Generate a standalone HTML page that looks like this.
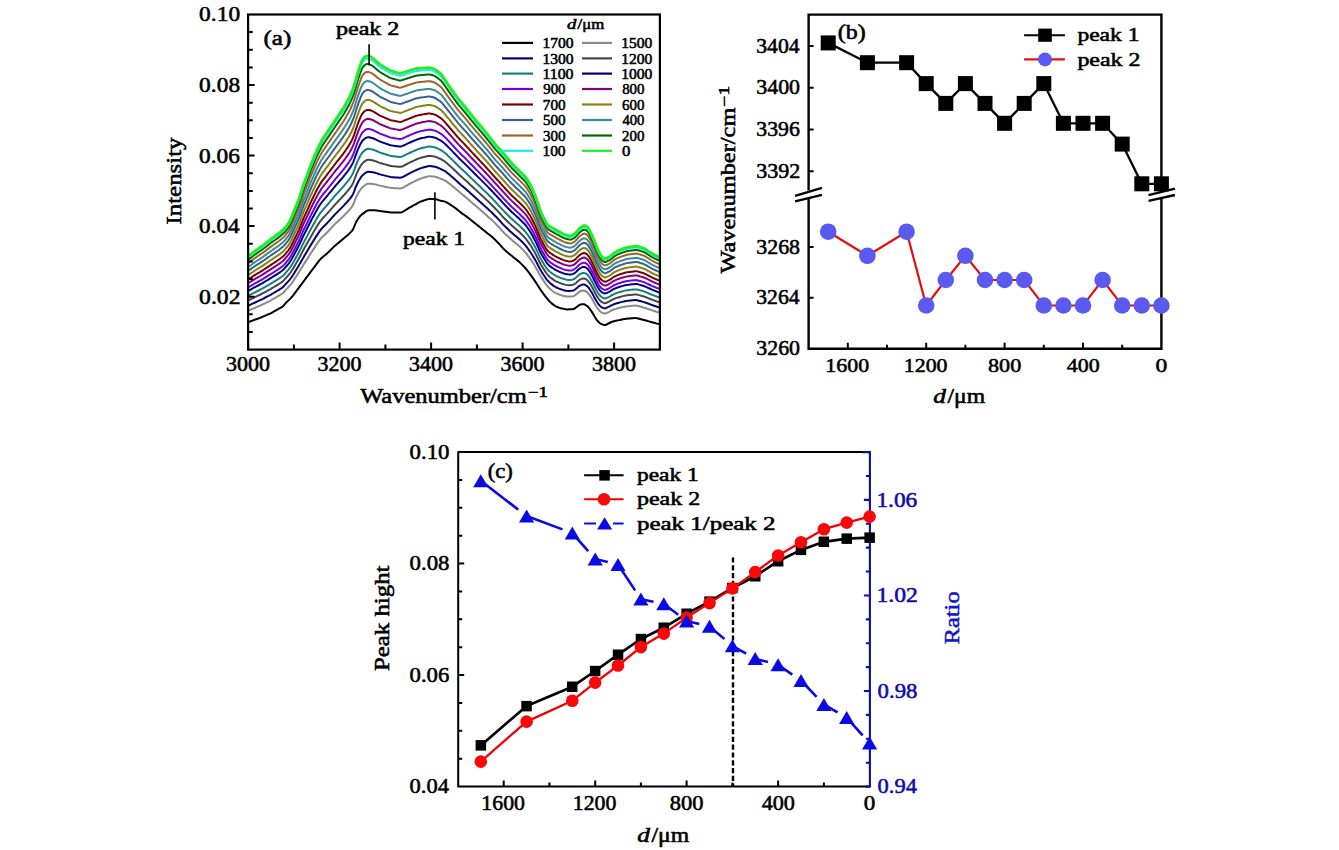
<!DOCTYPE html>
<html><head><meta charset="utf-8"><title>figure</title>
<style>html,body{margin:0;padding:0;background:#fff;}svg{display:block;}
text{font-family:"Liberation Serif",serif;}</style></head>
<body>
<svg width="1339" height="850" viewBox="0 0 1339 850" font-family="Liberation Serif, serif">
<rect width="1339" height="850" fill="#fff"/>
<defs><clipPath id="ca"><rect x="248.1" y="14.5" width="411.8" height="335.1"/></clipPath></defs>
<g clip-path="url(#ca)" fill="none" stroke-linejoin="round">
<path d="M248.0 322.08 L249.0 321.84 L250.0 321.48 L251.0 321.12 L252.0 320.76 L253.0 320.40 L254.0 320.04 L255.0 319.68 L256.0 319.31 L257.0 318.95 L258.0 318.59 L259.0 318.23 L260.0 317.85 L261.0 317.45 L262.0 317.03 L263.0 316.60 L264.0 316.17 L265.0 315.74 L266.0 315.31 L267.0 314.88 L268.0 314.45 L269.0 314.02 L270.0 313.58 L271.0 313.10 L272.0 312.58 L273.0 312.02 L274.0 311.46 L275.0 310.90 L276.0 310.34 L277.0 309.78 L278.0 309.22 L279.0 308.66 L280.0 308.10 L281.0 307.53 L282.0 306.97 L283.0 306.19 L284.0 305.13 L285.0 303.93 L286.0 302.81 L287.0 301.83 L288.0 300.84 L289.0 299.86 L290.0 298.87 L291.0 297.88 L292.0 296.79 L293.0 295.58 L294.0 294.25 L295.0 292.91 L296.0 291.56 L297.0 290.22 L298.0 288.88 L299.0 287.54 L300.0 286.20 L301.0 284.86 L302.0 283.52 L303.0 282.18 L304.0 280.84 L305.0 279.51 L306.0 278.17 L307.0 276.83 L308.0 275.48 L309.0 274.14 L310.0 272.80 L311.0 271.45 L312.0 270.11 L313.0 268.77 L314.0 267.44 L315.0 266.12 L316.0 264.79 L317.0 263.47 L318.0 262.15 L319.0 260.82 L320.0 259.61 L321.0 258.57 L322.0 257.69 L323.0 256.86 L324.0 256.03 L325.0 255.19 L326.0 254.36 L327.0 253.50 L328.0 252.58 L329.0 251.60 L330.0 250.60 L331.0 249.60 L332.0 248.60 L333.0 247.60 L334.0 246.63 L335.0 245.72 L336.0 244.87 L337.0 244.04 L338.0 243.21 L339.0 242.38 L340.0 241.55 L341.0 240.71 L342.0 239.88 L343.0 239.04 L344.0 238.19 L345.0 237.35 L346.0 236.51 L347.0 235.66 L348.0 234.80 L349.0 233.87 L350.0 232.90 L351.0 231.90 L352.0 230.90 L353.0 229.38 L354.0 227.20 L355.0 224.57 L356.0 222.30 L357.0 220.51 L358.0 219.03 L359.0 217.54 L360.0 216.22 L361.0 215.15 L362.0 214.33 L363.0 213.58 L364.0 212.84 L365.0 212.09 L366.0 211.35 L367.0 210.75 L368.0 210.40 L369.0 210.30 L370.0 210.30 L371.0 210.30 L372.0 210.30 L373.0 210.30 L374.0 210.30 L375.0 210.35 L376.0 210.44 L377.0 210.58 L378.0 210.72 L379.0 210.86 L380.0 211.00 L381.0 211.13 L382.0 211.27 L383.0 211.40 L384.0 211.53 L385.0 211.66 L386.0 211.80 L387.0 211.93 L388.0 212.06 L389.0 212.19 L390.0 212.33 L391.0 212.43 L392.0 212.49 L393.0 212.50 L394.0 212.50 L395.0 212.50 L396.0 212.50 L397.0 212.50 L398.0 212.50 L399.0 212.50 L400.0 212.50 L401.0 212.42 L402.0 212.13 L403.0 211.64 L404.0 211.03 L405.0 210.42 L406.0 209.81 L407.0 209.20 L408.0 208.58 L409.0 207.97 L410.0 207.38 L411.0 206.81 L412.0 206.26 L413.0 205.71 L414.0 205.16 L415.0 204.61 L416.0 204.07 L417.0 203.52 L418.0 202.97 L419.0 202.42 L420.0 201.91 L421.0 201.47 L422.0 201.10 L423.0 200.77 L424.0 200.43 L425.0 200.10 L426.0 199.77 L427.0 199.43 L428.0 199.11 L429.0 198.93 L430.0 198.87 L431.0 198.94 L432.0 199.00 L433.0 199.07 L434.0 199.14 L435.0 199.20 L436.0 199.32 L437.0 199.54 L438.0 199.86 L439.0 200.23 L440.0 200.54 L441.0 200.79 L442.0 200.98 L443.0 201.17 L444.0 201.35 L445.0 201.64 L446.0 202.06 L447.0 202.63 L448.0 203.23 L449.0 203.83 L450.0 204.45 L451.0 205.10 L452.0 205.78 L453.0 206.48 L454.0 207.17 L455.0 207.88 L456.0 208.62 L457.0 209.39 L458.0 210.20 L459.0 211.02 L460.0 211.83 L461.0 212.61 L462.0 213.35 L463.0 214.06 L464.0 214.75 L465.0 215.45 L466.0 216.17 L467.0 216.91 L468.0 217.69 L469.0 218.48 L470.0 219.27 L471.0 220.07 L472.0 220.86 L473.0 221.65 L474.0 222.44 L475.0 223.24 L476.0 224.03 L477.0 224.83 L478.0 225.63 L479.0 226.44 L480.0 227.25 L481.0 228.06 L482.0 228.87 L483.0 229.68 L484.0 230.49 L485.0 231.30 L486.0 232.11 L487.0 232.91 L488.0 233.71 L489.0 234.51 L490.0 235.30 L491.0 236.09 L492.0 236.89 L493.0 237.76 L494.0 238.70 L495.0 239.70 L496.0 240.70 L497.0 241.70 L498.0 242.73 L499.0 243.80 L500.0 244.90 L501.0 246.02 L502.0 247.13 L503.0 248.21 L504.0 249.21 L505.0 250.13 L506.0 251.02 L507.0 251.90 L508.0 252.79 L509.0 253.64 L510.0 254.47 L511.0 255.28 L512.0 256.10 L513.0 256.91 L514.0 257.71 L515.0 258.51 L516.0 259.31 L517.0 260.10 L518.0 260.89 L519.0 261.72 L520.0 262.63 L521.0 263.60 L522.0 264.60 L523.0 265.60 L524.0 266.63 L525.0 267.74 L526.0 268.94 L527.0 270.21 L528.0 271.47 L529.0 272.74 L530.0 274.05 L531.0 275.40 L532.0 276.80 L533.0 278.20 L534.0 279.60 L535.0 281.07 L536.0 282.60 L537.0 284.20 L538.0 285.80 L539.0 287.40 L540.0 288.93 L541.0 290.40 L542.0 291.80 L543.0 293.20 L544.0 294.60 L545.0 295.93 L546.0 297.20 L547.0 298.40 L548.0 299.60 L549.0 300.80 L550.0 301.87 L551.0 302.80 L552.0 303.60 L553.0 304.40 L554.0 305.20 L555.0 305.87 L556.0 306.40 L557.0 306.80 L558.0 307.20 L559.0 307.60 L560.0 307.94 L561.0 308.21 L562.0 308.43 L563.0 308.64 L564.0 308.86 L565.0 309.07 L566.0 309.29 L567.0 309.40 L568.0 309.43 L569.0 309.36 L570.0 309.29 L571.0 309.21 L572.0 309.14 L573.0 309.07 L574.0 308.77 L575.0 308.25 L576.0 307.50 L577.0 306.75 L578.0 306.00 L579.0 305.25 L580.0 304.71 L581.0 304.38 L582.0 304.25 L583.0 304.12 L584.0 304.25 L585.0 304.62 L586.0 305.25 L587.0 305.88 L588.0 306.75 L589.0 307.88 L590.0 309.25 L591.0 310.62 L592.0 312.12 L593.0 313.75 L594.0 315.50 L595.0 317.25 L596.0 318.79 L597.0 320.12 L598.0 321.25 L599.0 322.38 L600.0 323.25 L601.0 323.87 L602.0 324.23 L603.0 324.60 L604.0 324.94 L605.0 324.99 L606.0 324.75 L607.0 324.25 L608.0 323.75 L609.0 323.25 L610.0 322.75 L611.0 322.25 L612.0 321.82 L613.0 321.48 L614.0 321.23 L615.0 321.01 L616.0 320.79 L617.0 320.58 L618.0 320.36 L619.0 320.14 L620.0 319.92 L621.0 319.71 L622.0 319.49 L623.0 319.27 L624.0 319.07 L625.0 318.90 L626.0 318.78 L627.0 318.69 L628.0 318.60 L629.0 318.51 L630.0 318.42 L631.0 318.33 L632.0 318.24 L633.0 318.15 L634.0 318.06 L635.0 318.00 L636.0 318.05 L637.0 318.21 L638.0 318.47 L639.0 318.74 L640.0 319.00 L641.0 319.26 L642.0 319.52 L643.0 319.78 L644.0 320.04 L645.0 320.30 L646.0 320.57 L647.0 320.83 L648.0 321.11 L649.0 321.39 L650.0 321.67 L651.0 321.95 L652.0 322.22 L653.0 322.50 L654.0 322.78 L655.0 323.06 L656.0 323.34 L657.0 323.62 L658.0 323.87 L659.0 324.10 L660.0 324.23" stroke="#000000" stroke-width="2.0"/>
<path d="M248.0 310.69 L249.0 310.40 L250.0 309.96 L251.0 309.53 L252.0 309.09 L253.0 308.66 L254.0 308.22 L255.0 307.79 L256.0 307.36 L257.0 306.94 L258.0 306.52 L259.0 306.10 L260.0 305.67 L261.0 305.21 L262.0 304.74 L263.0 304.26 L264.0 303.77 L265.0 303.28 L266.0 302.79 L267.0 302.29 L268.0 301.80 L269.0 301.30 L270.0 300.81 L271.0 300.28 L272.0 299.72 L273.0 299.13 L274.0 298.55 L275.0 297.96 L276.0 297.38 L277.0 296.79 L278.0 296.20 L279.0 295.61 L280.0 295.00 L281.0 294.38 L282.0 293.77 L283.0 292.97 L284.0 291.94 L285.0 290.76 L286.0 289.62 L287.0 288.58 L288.0 287.54 L289.0 286.45 L290.0 285.31 L291.0 284.11 L292.0 282.81 L293.0 281.39 L294.0 279.86 L295.0 278.32 L296.0 276.78 L297.0 275.25 L298.0 273.71 L299.0 272.13 L300.0 270.51 L301.0 268.86 L302.0 267.22 L303.0 265.57 L304.0 263.95 L305.0 262.38 L306.0 260.84 L307.0 259.28 L308.0 257.70 L309.0 256.10 L310.0 254.52 L311.0 252.96 L312.0 251.42 L313.0 249.89 L314.0 248.36 L315.0 246.84 L316.0 245.32 L317.0 243.83 L318.0 242.37 L319.0 240.94 L320.0 239.60 L321.0 238.39 L322.0 237.35 L323.0 236.38 L324.0 235.43 L325.0 234.49 L326.0 233.54 L327.0 232.57 L328.0 231.54 L329.0 230.48 L330.0 229.39 L331.0 228.30 L332.0 227.22 L333.0 226.13 L334.0 225.07 L335.0 224.06 L336.0 223.09 L337.0 222.15 L338.0 221.20 L339.0 220.25 L340.0 219.31 L341.0 218.36 L342.0 217.41 L343.0 216.45 L344.0 215.48 L345.0 214.48 L346.0 213.47 L347.0 212.45 L348.0 211.42 L349.0 210.34 L350.0 209.18 L351.0 207.96 L352.0 206.70 L353.0 205.01 L354.0 202.72 L355.0 199.99 L356.0 197.51 L357.0 195.43 L358.0 193.62 L359.0 191.84 L360.0 190.23 L361.0 188.83 L362.0 187.74 L363.0 186.81 L364.0 185.99 L365.0 185.23 L366.0 184.52 L367.0 183.98 L368.0 183.69 L369.0 183.65 L370.0 183.72 L371.0 183.79 L372.0 183.89 L373.0 184.02 L374.0 184.17 L375.0 184.36 L376.0 184.59 L377.0 184.85 L378.0 185.12 L379.0 185.39 L380.0 185.64 L381.0 185.87 L382.0 186.08 L383.0 186.30 L384.0 186.51 L385.0 186.72 L386.0 186.94 L387.0 187.15 L388.0 187.36 L389.0 187.58 L390.0 187.77 L391.0 187.93 L392.0 188.03 L393.0 188.09 L394.0 188.14 L395.0 188.19 L396.0 188.25 L397.0 188.30 L398.0 188.35 L399.0 188.40 L400.0 188.42 L401.0 188.33 L402.0 188.04 L403.0 187.59 L404.0 187.03 L405.0 186.47 L406.0 185.91 L407.0 185.35 L408.0 184.79 L409.0 184.23 L410.0 183.69 L411.0 183.17 L412.0 182.66 L413.0 182.16 L414.0 181.65 L415.0 181.14 L416.0 180.65 L417.0 180.16 L418.0 179.69 L419.0 179.22 L420.0 178.79 L421.0 178.41 L422.0 178.09 L423.0 177.81 L424.0 177.52 L425.0 177.23 L426.0 176.94 L427.0 176.66 L428.0 176.38 L429.0 176.22 L430.0 176.19 L431.0 176.28 L432.0 176.39 L433.0 176.49 L434.0 176.60 L435.0 176.75 L436.0 176.96 L437.0 177.27 L438.0 177.66 L439.0 178.10 L440.0 178.49 L441.0 178.86 L442.0 179.23 L443.0 179.63 L444.0 180.05 L445.0 180.54 L446.0 181.15 L447.0 181.88 L448.0 182.64 L449.0 183.39 L450.0 184.16 L451.0 184.94 L452.0 185.74 L453.0 186.57 L454.0 187.39 L455.0 188.21 L456.0 189.07 L457.0 189.95 L458.0 190.85 L459.0 191.74 L460.0 192.61 L461.0 193.47 L462.0 194.29 L463.0 195.08 L464.0 195.86 L465.0 196.65 L466.0 197.45 L467.0 198.29 L468.0 199.16 L469.0 200.04 L470.0 200.92 L471.0 201.79 L472.0 202.65 L473.0 203.52 L474.0 204.38 L475.0 205.24 L476.0 206.11 L477.0 206.98 L478.0 207.85 L479.0 208.73 L480.0 209.61 L481.0 210.48 L482.0 211.36 L483.0 212.24 L484.0 213.11 L485.0 213.98 L486.0 214.86 L487.0 215.74 L488.0 216.63 L489.0 217.51 L490.0 218.39 L491.0 219.27 L492.0 220.16 L493.0 221.11 L494.0 222.10 L495.0 223.14 L496.0 224.16 L497.0 225.18 L498.0 226.22 L499.0 227.29 L500.0 228.39 L501.0 229.50 L502.0 230.61 L503.0 231.69 L504.0 232.72 L505.0 233.69 L506.0 234.63 L507.0 235.58 L508.0 236.52 L509.0 237.43 L510.0 238.33 L511.0 239.20 L512.0 240.06 L513.0 240.91 L514.0 241.75 L515.0 242.59 L516.0 243.42 L517.0 244.25 L518.0 245.08 L519.0 245.94 L520.0 246.86 L521.0 247.84 L522.0 248.84 L523.0 249.84 L524.0 250.86 L525.0 251.96 L526.0 253.16 L527.0 254.45 L528.0 255.78 L529.0 257.11 L530.0 258.48 L531.0 259.92 L532.0 261.45 L533.0 263.01 L534.0 264.57 L535.0 266.20 L536.0 267.91 L537.0 269.72 L538.0 271.55 L539.0 273.39 L540.0 275.17 L541.0 276.84 L542.0 278.39 L543.0 279.90 L544.0 281.40 L545.0 282.85 L546.0 284.24 L547.0 285.54 L548.0 286.74 L549.0 287.86 L550.0 288.83 L551.0 289.70 L552.0 290.46 L553.0 291.22 L554.0 291.97 L555.0 292.62 L556.0 293.16 L557.0 293.59 L558.0 294.02 L559.0 294.44 L560.0 294.81 L561.0 295.14 L562.0 295.41 L563.0 295.68 L564.0 295.94 L565.0 296.18 L566.0 296.41 L567.0 296.55 L568.0 296.62 L569.0 296.61 L570.0 296.58 L571.0 296.50 L572.0 296.38 L573.0 296.23 L574.0 295.89 L575.0 295.32 L576.0 294.52 L577.0 293.70 L578.0 292.88 L579.0 292.07 L580.0 291.46 L581.0 291.04 L582.0 290.81 L583.0 290.59 L584.0 290.64 L585.0 290.96 L586.0 291.55 L587.0 292.18 L588.0 293.09 L589.0 294.29 L590.0 295.73 L591.0 297.20 L592.0 298.82 L593.0 300.57 L594.0 302.43 L595.0 304.31 L596.0 306.03 L597.0 307.58 L598.0 308.91 L599.0 310.21 L600.0 311.24 L601.0 312.04 L602.0 312.56 L603.0 313.01 L604.0 313.40 L605.0 313.49 L606.0 313.28 L607.0 312.79 L608.0 312.29 L609.0 311.80 L610.0 311.28 L611.0 310.74 L612.0 310.23 L613.0 309.80 L614.0 309.44 L615.0 309.14 L616.0 308.85 L617.0 308.59 L618.0 308.32 L619.0 308.06 L620.0 307.80 L621.0 307.55 L622.0 307.31 L623.0 307.07 L624.0 306.84 L625.0 306.65 L626.0 306.49 L627.0 306.36 L628.0 306.25 L629.0 306.15 L630.0 306.06 L631.0 305.96 L632.0 305.87 L633.0 305.77 L634.0 305.68 L635.0 305.60 L636.0 305.62 L637.0 305.76 L638.0 306.01 L639.0 306.28 L640.0 306.55 L641.0 306.82 L642.0 307.09 L643.0 307.37 L644.0 307.65 L645.0 307.95 L646.0 308.27 L647.0 308.61 L648.0 308.96 L649.0 309.30 L650.0 309.65 L651.0 310.00 L652.0 310.34 L653.0 310.66 L654.0 310.98 L655.0 311.30 L656.0 311.62 L657.0 311.94 L658.0 312.22 L659.0 312.47 L660.0 312.62" stroke="#8a8a8a" stroke-width="2.0"/>
<path d="M248.0 305.62 L249.0 305.31 L250.0 304.84 L251.0 304.37 L252.0 303.90 L253.0 303.44 L254.0 302.97 L255.0 302.50 L256.0 302.05 L257.0 301.60 L258.0 301.15 L259.0 300.70 L260.0 300.24 L261.0 299.77 L262.0 299.27 L263.0 298.77 L264.0 298.26 L265.0 297.74 L266.0 297.21 L267.0 296.69 L268.0 296.17 L269.0 295.64 L270.0 295.12 L271.0 294.57 L272.0 293.99 L273.0 293.40 L274.0 292.80 L275.0 292.21 L276.0 291.61 L277.0 291.01 L278.0 290.41 L279.0 289.80 L280.0 289.17 L281.0 288.53 L282.0 287.89 L283.0 287.09 L284.0 286.07 L285.0 284.90 L286.0 283.75 L287.0 282.68 L288.0 281.61 L289.0 280.48 L290.0 279.28 L291.0 277.99 L292.0 276.58 L293.0 275.07 L294.0 273.46 L295.0 271.83 L296.0 270.20 L297.0 268.58 L298.0 266.96 L299.0 265.27 L300.0 263.53 L301.0 261.75 L302.0 259.96 L303.0 258.17 L304.0 256.44 L305.0 254.75 L306.0 253.12 L307.0 251.47 L308.0 249.78 L309.0 248.07 L310.0 246.38 L311.0 244.72 L312.0 243.10 L313.0 241.48 L314.0 239.87 L315.0 238.26 L316.0 236.65 L317.0 235.09 L318.0 233.57 L319.0 232.09 L320.0 230.69 L321.0 229.42 L322.0 228.30 L323.0 227.27 L324.0 226.27 L325.0 225.27 L326.0 224.27 L327.0 223.25 L328.0 222.18 L329.0 221.07 L330.0 219.95 L331.0 218.82 L332.0 217.70 L333.0 216.57 L334.0 215.48 L335.0 214.42 L336.0 213.40 L337.0 212.40 L338.0 211.41 L339.0 210.41 L340.0 209.41 L341.0 208.41 L342.0 207.41 L343.0 206.40 L344.0 205.37 L345.0 204.30 L346.0 203.21 L347.0 202.12 L348.0 201.01 L349.0 199.86 L350.0 198.62 L351.0 197.30 L352.0 195.92 L353.0 194.16 L354.0 191.82 L355.0 189.05 L356.0 186.47 L357.0 184.26 L358.0 182.31 L359.0 180.40 L360.0 178.67 L361.0 177.11 L362.0 175.90 L363.0 174.90 L364.0 174.05 L365.0 173.27 L366.0 172.58 L367.0 172.07 L368.0 171.80 L369.0 171.78 L370.0 171.89 L371.0 171.99 L372.0 172.14 L373.0 172.32 L374.0 172.54 L375.0 172.79 L376.0 173.08 L377.0 173.40 L378.0 173.73 L379.0 174.05 L380.0 174.35 L381.0 174.62 L382.0 174.87 L383.0 175.12 L384.0 175.37 L385.0 175.62 L386.0 175.87 L387.0 176.12 L388.0 176.37 L389.0 176.62 L390.0 176.85 L391.0 177.02 L392.0 177.14 L393.0 177.22 L394.0 177.30 L395.0 177.38 L396.0 177.45 L397.0 177.53 L398.0 177.60 L399.0 177.68 L400.0 177.70 L401.0 177.61 L402.0 177.32 L403.0 176.88 L404.0 176.34 L405.0 175.81 L406.0 175.27 L407.0 174.74 L408.0 174.20 L409.0 173.67 L410.0 173.15 L411.0 172.65 L412.0 172.16 L413.0 171.67 L414.0 171.19 L415.0 170.70 L416.0 170.22 L417.0 169.76 L418.0 169.33 L419.0 168.90 L420.0 168.50 L421.0 168.15 L422.0 167.86 L423.0 167.59 L424.0 167.32 L425.0 167.05 L426.0 166.79 L427.0 166.52 L428.0 166.26 L429.0 166.12 L430.0 166.10 L431.0 166.20 L432.0 166.32 L433.0 166.44 L434.0 166.58 L435.0 166.75 L436.0 167.00 L437.0 167.36 L438.0 167.79 L439.0 168.25 L440.0 168.68 L441.0 169.10 L442.0 169.55 L443.0 170.05 L444.0 170.57 L445.0 171.16 L446.0 171.85 L447.0 172.64 L448.0 173.47 L449.0 174.30 L450.0 175.12 L451.0 175.96 L452.0 176.83 L453.0 177.70 L454.0 178.58 L455.0 179.46 L456.0 180.37 L457.0 181.30 L458.0 182.24 L459.0 183.15 L460.0 184.06 L461.0 184.95 L462.0 185.80 L463.0 186.63 L464.0 187.45 L465.0 188.28 L466.0 189.12 L467.0 190.00 L468.0 190.91 L469.0 191.83 L470.0 192.75 L471.0 193.65 L472.0 194.55 L473.0 195.44 L474.0 196.34 L475.0 197.24 L476.0 198.13 L477.0 199.03 L478.0 199.94 L479.0 200.84 L480.0 201.75 L481.0 202.66 L482.0 203.56 L483.0 204.47 L484.0 205.37 L485.0 206.28 L486.0 207.19 L487.0 208.10 L488.0 209.02 L489.0 209.95 L490.0 210.87 L491.0 211.79 L492.0 212.71 L493.0 213.69 L494.0 214.72 L495.0 215.77 L496.0 216.80 L497.0 217.82 L498.0 218.87 L499.0 219.94 L500.0 221.04 L501.0 222.15 L502.0 223.25 L503.0 224.34 L504.0 225.38 L505.0 226.38 L506.0 227.34 L507.0 228.31 L508.0 229.27 L509.0 230.22 L510.0 231.14 L511.0 232.04 L512.0 232.92 L513.0 233.79 L514.0 234.64 L515.0 235.50 L516.0 236.34 L517.0 237.19 L518.0 238.04 L519.0 238.92 L520.0 239.85 L521.0 240.83 L522.0 241.82 L523.0 242.82 L524.0 243.84 L525.0 244.93 L526.0 246.14 L527.0 247.44 L528.0 248.80 L529.0 250.16 L530.0 251.55 L531.0 253.03 L532.0 254.61 L533.0 256.25 L534.0 257.89 L535.0 259.58 L536.0 261.37 L537.0 263.27 L538.0 265.21 L539.0 267.16 L540.0 269.05 L541.0 270.80 L542.0 272.42 L543.0 273.98 L544.0 275.53 L545.0 277.02 L546.0 278.48 L547.0 279.81 L548.0 281.02 L549.0 282.10 L550.0 283.03 L551.0 283.87 L552.0 284.61 L553.0 285.35 L554.0 286.09 L555.0 286.73 L556.0 287.27 L557.0 287.71 L558.0 288.15 L559.0 288.58 L560.0 288.97 L561.0 289.31 L562.0 289.61 L563.0 289.91 L564.0 290.18 L565.0 290.44 L566.0 290.67 L567.0 290.83 L568.0 290.92 L569.0 290.94 L570.0 290.92 L571.0 290.84 L572.0 290.69 L573.0 290.52 L574.0 290.15 L575.0 289.56 L576.0 288.75 L577.0 287.89 L578.0 287.04 L579.0 286.20 L580.0 285.56 L581.0 285.10 L582.0 284.83 L583.0 284.57 L584.0 284.58 L585.0 284.88 L586.0 285.45 L587.0 286.08 L588.0 287.01 L589.0 288.24 L590.0 289.71 L591.0 291.23 L592.0 292.89 L593.0 294.70 L594.0 296.61 L595.0 298.55 L596.0 300.34 L597.0 301.99 L598.0 303.42 L599.0 304.79 L600.0 305.90 L601.0 306.77 L602.0 307.36 L603.0 307.85 L604.0 308.27 L605.0 308.37 L606.0 308.17 L607.0 307.68 L608.0 307.19 L609.0 306.70 L610.0 306.18 L611.0 305.62 L612.0 305.07 L613.0 304.60 L614.0 304.20 L615.0 303.85 L616.0 303.54 L617.0 303.25 L618.0 302.96 L619.0 302.68 L620.0 302.40 L621.0 302.14 L622.0 301.89 L623.0 301.64 L624.0 301.40 L625.0 301.19 L626.0 301.02 L627.0 300.88 L628.0 300.76 L629.0 300.65 L630.0 300.56 L631.0 300.46 L632.0 300.36 L633.0 300.26 L634.0 300.16 L635.0 300.08 L636.0 300.09 L637.0 300.22 L638.0 300.46 L639.0 300.74 L640.0 301.01 L641.0 301.29 L642.0 301.56 L643.0 301.84 L644.0 302.13 L645.0 302.45 L646.0 302.80 L647.0 303.17 L648.0 303.55 L649.0 303.93 L650.0 304.30 L651.0 304.68 L652.0 305.04 L653.0 305.39 L654.0 305.73 L655.0 306.07 L656.0 306.40 L657.0 306.74 L658.0 307.04 L659.0 307.30 L660.0 307.45" stroke="#00007a" stroke-width="2.0"/>
<path d="M248.0 300.48 L249.0 300.15 L250.0 299.65 L251.0 299.15 L252.0 298.65 L253.0 298.14 L254.0 297.64 L255.0 297.15 L256.0 296.66 L257.0 296.18 L258.0 295.71 L259.0 295.23 L260.0 294.75 L261.0 294.25 L262.0 293.73 L263.0 293.21 L264.0 292.67 L265.0 292.12 L266.0 291.57 L267.0 291.02 L268.0 290.46 L269.0 289.91 L270.0 289.36 L271.0 288.79 L272.0 288.19 L273.0 287.59 L274.0 286.98 L275.0 286.37 L276.0 285.77 L277.0 285.16 L278.0 284.55 L279.0 283.91 L280.0 283.26 L281.0 282.60 L282.0 281.94 L283.0 281.13 L284.0 280.12 L285.0 278.96 L286.0 277.81 L287.0 276.71 L288.0 275.61 L289.0 274.44 L290.0 273.16 L291.0 271.78 L292.0 270.27 L293.0 268.67 L294.0 266.97 L295.0 265.25 L296.0 263.54 L297.0 261.83 L298.0 260.12 L299.0 258.33 L300.0 256.46 L301.0 254.54 L302.0 252.61 L303.0 250.68 L304.0 248.82 L305.0 247.03 L306.0 245.31 L307.0 243.56 L308.0 241.77 L309.0 239.94 L310.0 238.14 L311.0 236.39 L312.0 234.67 L313.0 232.97 L314.0 231.26 L315.0 229.57 L316.0 227.87 L317.0 226.24 L318.0 224.65 L319.0 223.12 L320.0 221.67 L321.0 220.32 L322.0 219.14 L323.0 218.04 L324.0 216.99 L325.0 215.93 L326.0 214.88 L327.0 213.81 L328.0 212.70 L329.0 211.55 L330.0 210.39 L331.0 209.22 L332.0 208.06 L333.0 206.90 L334.0 205.75 L335.0 204.65 L336.0 203.58 L337.0 202.53 L338.0 201.48 L339.0 200.43 L340.0 199.38 L341.0 198.33 L342.0 197.28 L343.0 196.22 L344.0 195.13 L345.0 193.99 L346.0 192.83 L347.0 191.66 L348.0 190.47 L349.0 189.25 L350.0 187.92 L351.0 186.50 L352.0 185.01 L353.0 183.17 L354.0 180.78 L355.0 177.97 L356.0 175.30 L357.0 172.95 L358.0 170.86 L359.0 168.82 L360.0 166.95 L361.0 165.25 L362.0 163.91 L363.0 162.83 L364.0 161.94 L365.0 161.16 L366.0 160.48 L367.0 160.00 L368.0 159.76 L369.0 159.76 L370.0 159.90 L371.0 160.04 L372.0 160.23 L373.0 160.47 L374.0 160.76 L375.0 161.07 L376.0 161.42 L377.0 161.80 L378.0 162.19 L379.0 162.57 L380.0 162.92 L381.0 163.23 L382.0 163.52 L383.0 163.81 L384.0 164.09 L385.0 164.38 L386.0 164.66 L387.0 164.95 L388.0 165.24 L389.0 165.52 L390.0 165.78 L391.0 165.97 L392.0 166.11 L393.0 166.22 L394.0 166.32 L395.0 166.42 L396.0 166.51 L397.0 166.61 L398.0 166.71 L399.0 166.81 L400.0 166.84 L401.0 166.75 L402.0 166.46 L403.0 166.03 L404.0 165.52 L405.0 165.01 L406.0 164.50 L407.0 163.99 L408.0 163.48 L409.0 162.97 L410.0 162.47 L411.0 161.99 L412.0 161.52 L413.0 161.05 L414.0 160.58 L415.0 160.12 L416.0 159.66 L417.0 159.23 L418.0 158.83 L419.0 158.44 L420.0 158.07 L421.0 157.75 L422.0 157.48 L423.0 157.24 L424.0 156.99 L425.0 156.74 L426.0 156.50 L427.0 156.25 L428.0 156.01 L429.0 155.88 L430.0 155.87 L431.0 155.99 L432.0 156.12 L433.0 156.26 L434.0 156.42 L435.0 156.63 L436.0 156.92 L437.0 157.32 L438.0 157.78 L439.0 158.28 L440.0 158.74 L441.0 159.22 L442.0 159.74 L443.0 160.34 L444.0 160.96 L445.0 161.64 L446.0 162.42 L447.0 163.29 L448.0 164.19 L449.0 165.08 L450.0 165.97 L451.0 166.87 L452.0 167.80 L453.0 168.73 L454.0 169.66 L455.0 170.60 L456.0 171.56 L457.0 172.53 L458.0 173.51 L459.0 174.46 L460.0 175.40 L461.0 176.32 L462.0 177.21 L463.0 178.07 L464.0 178.94 L465.0 179.80 L466.0 180.69 L467.0 181.61 L468.0 182.56 L469.0 183.52 L470.0 184.47 L471.0 185.41 L472.0 186.34 L473.0 187.27 L474.0 188.20 L475.0 189.12 L476.0 190.05 L477.0 190.98 L478.0 191.92 L479.0 192.86 L480.0 193.79 L481.0 194.73 L482.0 195.67 L483.0 196.60 L484.0 197.54 L485.0 198.47 L486.0 199.41 L487.0 200.36 L488.0 201.32 L489.0 202.28 L490.0 203.24 L491.0 204.21 L492.0 205.17 L493.0 206.18 L494.0 207.23 L495.0 208.30 L496.0 209.35 L497.0 210.37 L498.0 211.42 L499.0 212.50 L500.0 213.59 L501.0 214.70 L502.0 215.80 L503.0 216.89 L504.0 217.95 L505.0 218.97 L506.0 219.96 L507.0 220.95 L508.0 221.94 L509.0 222.91 L510.0 223.86 L511.0 224.79 L512.0 225.69 L513.0 226.57 L514.0 227.45 L515.0 228.31 L516.0 229.18 L517.0 230.04 L518.0 230.91 L519.0 231.80 L520.0 232.74 L521.0 233.72 L522.0 234.72 L523.0 235.72 L524.0 236.74 L525.0 237.81 L526.0 239.02 L527.0 240.34 L528.0 241.72 L529.0 243.11 L530.0 244.53 L531.0 246.06 L532.0 247.69 L533.0 249.40 L534.0 251.11 L535.0 252.87 L536.0 254.75 L537.0 256.74 L538.0 258.79 L539.0 260.84 L540.0 262.84 L541.0 264.69 L542.0 266.38 L543.0 267.98 L544.0 269.57 L545.0 271.13 L546.0 272.63 L547.0 274.01 L548.0 275.23 L549.0 276.27 L550.0 277.16 L551.0 277.96 L552.0 278.68 L553.0 279.40 L554.0 280.13 L555.0 280.76 L556.0 281.30 L557.0 281.75 L558.0 282.20 L559.0 282.65 L560.0 283.05 L561.0 283.42 L562.0 283.74 L563.0 284.06 L564.0 284.36 L565.0 284.63 L566.0 284.87 L567.0 285.04 L568.0 285.15 L569.0 285.19 L570.0 285.19 L571.0 285.11 L572.0 284.94 L573.0 284.73 L574.0 284.34 L575.0 283.73 L576.0 282.90 L577.0 282.01 L578.0 281.12 L579.0 280.26 L580.0 279.58 L581.0 279.09 L582.0 278.77 L583.0 278.46 L584.0 278.45 L585.0 278.72 L586.0 279.27 L587.0 279.91 L588.0 280.86 L589.0 282.12 L590.0 283.61 L591.0 285.17 L592.0 286.89 L593.0 288.76 L594.0 290.72 L595.0 292.71 L596.0 294.59 L597.0 296.34 L598.0 297.86 L599.0 299.30 L600.0 300.49 L601.0 301.44 L602.0 302.09 L603.0 302.62 L604.0 303.06 L605.0 303.19 L606.0 303.00 L607.0 302.51 L608.0 302.03 L609.0 301.54 L610.0 301.01 L611.0 300.43 L612.0 299.85 L613.0 299.33 L614.0 298.88 L615.0 298.50 L616.0 298.15 L617.0 297.84 L618.0 297.54 L619.0 297.23 L620.0 296.94 L621.0 296.66 L622.0 296.40 L623.0 296.14 L624.0 295.89 L625.0 295.67 L626.0 295.47 L627.0 295.32 L628.0 295.19 L629.0 295.08 L630.0 294.98 L631.0 294.88 L632.0 294.78 L633.0 294.68 L634.0 294.58 L635.0 294.49 L636.0 294.49 L637.0 294.61 L638.0 294.84 L639.0 295.12 L640.0 295.40 L641.0 295.68 L642.0 295.96 L643.0 296.24 L644.0 296.54 L645.0 296.88 L646.0 297.26 L647.0 297.66 L648.0 298.07 L649.0 298.48 L650.0 298.89 L651.0 299.29 L652.0 299.68 L653.0 300.05 L654.0 300.41 L655.0 300.76 L656.0 301.12 L657.0 301.47 L658.0 301.79 L659.0 302.06 L660.0 302.21" stroke="#464646" stroke-width="2.0"/>
<path d="M248.0 295.81 L249.0 295.45 L250.0 294.92 L251.0 294.39 L252.0 293.86 L253.0 293.33 L254.0 292.80 L255.0 292.27 L256.0 291.75 L257.0 291.25 L258.0 290.75 L259.0 290.26 L260.0 289.75 L261.0 289.23 L262.0 288.69 L263.0 288.14 L264.0 287.58 L265.0 287.01 L266.0 286.43 L267.0 285.85 L268.0 285.27 L269.0 284.69 L270.0 284.11 L271.0 283.52 L272.0 282.92 L273.0 282.30 L274.0 281.68 L275.0 281.06 L276.0 280.45 L277.0 279.83 L278.0 279.20 L279.0 278.56 L280.0 277.89 L281.0 277.20 L282.0 276.52 L283.0 275.70 L284.0 274.70 L285.0 273.55 L286.0 272.40 L287.0 271.27 L288.0 270.15 L289.0 268.94 L290.0 267.60 L291.0 266.13 L292.0 264.53 L293.0 262.85 L294.0 261.06 L295.0 259.27 L296.0 257.47 L297.0 255.69 L298.0 253.89 L299.0 252.00 L300.0 250.03 L301.0 247.97 L302.0 245.92 L303.0 243.86 L304.0 241.89 L305.0 240.00 L306.0 238.20 L307.0 236.36 L308.0 234.47 L309.0 232.53 L310.0 230.64 L311.0 228.79 L312.0 227.00 L313.0 225.22 L314.0 223.43 L315.0 221.65 L316.0 219.88 L317.0 218.18 L318.0 216.54 L319.0 214.96 L320.0 213.45 L321.0 212.04 L322.0 210.79 L323.0 209.63 L324.0 208.53 L325.0 207.44 L326.0 206.34 L327.0 205.22 L328.0 204.07 L329.0 202.88 L330.0 201.68 L331.0 200.48 L332.0 199.28 L333.0 198.08 L334.0 196.90 L335.0 195.76 L336.0 194.65 L337.0 193.55 L338.0 192.45 L339.0 191.35 L340.0 190.26 L341.0 189.16 L342.0 188.06 L343.0 186.95 L344.0 185.80 L345.0 184.61 L346.0 183.37 L347.0 182.13 L348.0 180.88 L349.0 179.59 L350.0 178.19 L351.0 176.68 L352.0 175.08 L353.0 173.17 L354.0 170.73 L355.0 167.88 L356.0 165.12 L357.0 162.65 L358.0 160.43 L359.0 158.27 L360.0 156.28 L361.0 154.44 L362.0 153.00 L363.0 151.84 L364.0 150.92 L365.0 150.13 L366.0 149.47 L367.0 149.02 L368.0 148.80 L369.0 148.82 L370.0 148.99 L371.0 149.16 L372.0 149.39 L373.0 149.68 L374.0 150.03 L375.0 150.41 L376.0 150.81 L377.0 151.25 L378.0 151.68 L379.0 152.11 L380.0 152.51 L381.0 152.87 L382.0 153.18 L383.0 153.50 L384.0 153.82 L385.0 154.14 L386.0 154.46 L387.0 154.78 L388.0 155.10 L389.0 155.42 L390.0 155.70 L391.0 155.92 L392.0 156.07 L393.0 156.20 L394.0 156.32 L395.0 156.44 L396.0 156.56 L397.0 156.68 L398.0 156.80 L399.0 156.92 L400.0 156.96 L401.0 156.87 L402.0 156.58 L403.0 156.16 L404.0 155.67 L405.0 155.18 L406.0 154.69 L407.0 154.20 L408.0 153.71 L409.0 153.22 L410.0 152.75 L411.0 152.28 L412.0 151.83 L413.0 151.38 L414.0 150.93 L415.0 150.49 L416.0 150.05 L417.0 149.65 L418.0 149.28 L419.0 148.92 L420.0 148.58 L421.0 148.29 L422.0 148.04 L423.0 147.81 L424.0 147.59 L425.0 147.36 L426.0 147.13 L427.0 146.90 L428.0 146.68 L429.0 146.56 L430.0 146.57 L431.0 146.69 L432.0 146.84 L433.0 146.99 L434.0 147.17 L435.0 147.41 L436.0 147.74 L437.0 148.18 L438.0 148.67 L439.0 149.20 L440.0 149.69 L441.0 150.22 L442.0 150.81 L443.0 151.50 L444.0 152.22 L445.0 152.99 L446.0 153.84 L447.0 154.78 L448.0 155.74 L449.0 156.69 L450.0 157.64 L451.0 158.60 L452.0 159.57 L453.0 160.56 L454.0 161.54 L455.0 162.53 L456.0 163.54 L457.0 164.56 L458.0 165.57 L459.0 166.55 L460.0 167.51 L461.0 168.46 L462.0 169.38 L463.0 170.29 L464.0 171.18 L465.0 172.08 L466.0 173.01 L467.0 173.96 L468.0 174.95 L469.0 175.95 L470.0 176.94 L471.0 177.91 L472.0 178.87 L473.0 179.82 L474.0 180.78 L475.0 181.74 L476.0 182.70 L477.0 183.66 L478.0 184.62 L479.0 185.59 L480.0 186.55 L481.0 187.52 L482.0 188.48 L483.0 189.44 L484.0 190.40 L485.0 191.36 L486.0 192.33 L487.0 193.32 L488.0 194.31 L489.0 195.31 L490.0 196.31 L491.0 197.30 L492.0 198.30 L493.0 199.35 L494.0 200.42 L495.0 201.51 L496.0 202.56 L497.0 203.59 L498.0 204.64 L499.0 205.72 L500.0 206.82 L501.0 207.92 L502.0 209.02 L503.0 210.12 L504.0 211.18 L505.0 212.22 L506.0 213.23 L507.0 214.25 L508.0 215.26 L509.0 216.26 L510.0 217.24 L511.0 218.19 L512.0 219.11 L513.0 220.01 L514.0 220.89 L515.0 221.78 L516.0 222.66 L517.0 223.54 L518.0 224.42 L519.0 225.32 L520.0 226.27 L521.0 227.25 L522.0 228.25 L523.0 229.25 L524.0 230.27 L525.0 231.34 L526.0 232.54 L527.0 233.87 L528.0 235.29 L529.0 236.70 L530.0 238.14 L531.0 239.70 L532.0 241.39 L533.0 243.17 L534.0 244.94 L535.0 246.77 L536.0 248.72 L537.0 250.79 L538.0 252.95 L539.0 255.10 L540.0 257.19 L541.0 259.12 L542.0 260.88 L543.0 262.52 L544.0 264.16 L545.0 265.76 L546.0 267.31 L547.0 268.73 L548.0 269.95 L549.0 270.96 L550.0 271.81 L551.0 272.58 L552.0 273.29 L553.0 273.99 L554.0 274.70 L555.0 275.32 L556.0 275.87 L557.0 276.33 L558.0 276.79 L559.0 277.25 L560.0 277.67 L561.0 278.05 L562.0 278.40 L563.0 278.74 L564.0 279.06 L565.0 279.34 L566.0 279.58 L567.0 279.76 L568.0 279.89 L569.0 279.96 L570.0 279.98 L571.0 279.89 L572.0 279.70 L573.0 279.46 L574.0 279.05 L575.0 278.42 L576.0 277.57 L577.0 276.66 L578.0 275.74 L579.0 274.85 L580.0 274.14 L581.0 273.62 L582.0 273.26 L583.0 272.91 L584.0 272.86 L585.0 273.11 L586.0 273.65 L587.0 274.29 L588.0 275.25 L589.0 276.54 L590.0 278.06 L591.0 279.66 L592.0 281.43 L593.0 283.35 L594.0 285.36 L595.0 287.40 L596.0 289.35 L597.0 291.19 L598.0 292.80 L599.0 294.31 L600.0 295.56 L601.0 296.58 L602.0 297.30 L603.0 297.86 L604.0 298.33 L605.0 298.47 L606.0 298.29 L607.0 297.81 L608.0 297.32 L609.0 296.84 L610.0 296.30 L611.0 295.71 L612.0 295.09 L613.0 294.54 L614.0 294.05 L615.0 293.62 L616.0 293.25 L617.0 292.92 L618.0 292.60 L619.0 292.27 L620.0 291.96 L621.0 291.67 L622.0 291.41 L623.0 291.14 L624.0 290.87 L625.0 290.64 L626.0 290.43 L627.0 290.26 L628.0 290.12 L629.0 290.01 L630.0 289.91 L631.0 289.80 L632.0 289.70 L633.0 289.60 L634.0 289.50 L635.0 289.41 L636.0 289.39 L637.0 289.50 L638.0 289.72 L639.0 290.01 L640.0 290.29 L641.0 290.58 L642.0 290.86 L643.0 291.15 L644.0 291.46 L645.0 291.81 L646.0 292.22 L647.0 292.65 L648.0 293.08 L649.0 293.52 L650.0 293.96 L651.0 294.39 L652.0 294.80 L653.0 295.19 L654.0 295.56 L655.0 295.94 L656.0 296.31 L657.0 296.68 L658.0 297.00 L659.0 297.29 L660.0 297.45" stroke="#108080" stroke-width="2.0"/>
<path d="M248.0 290.87 L249.0 290.49 L250.0 289.93 L251.0 289.37 L252.0 288.80 L253.0 288.24 L254.0 287.67 L255.0 287.12 L256.0 286.57 L257.0 286.04 L258.0 285.52 L259.0 285.00 L260.0 284.47 L261.0 283.92 L262.0 283.37 L263.0 282.80 L264.0 282.21 L265.0 281.61 L266.0 281.00 L267.0 280.39 L268.0 279.79 L269.0 279.18 L270.0 278.57 L271.0 277.96 L272.0 277.34 L273.0 276.71 L274.0 276.08 L275.0 275.46 L276.0 274.83 L277.0 274.20 L278.0 273.56 L279.0 272.90 L280.0 272.21 L281.0 271.50 L282.0 270.79 L283.0 269.97 L284.0 268.98 L285.0 267.84 L286.0 266.68 L287.0 265.53 L288.0 264.38 L289.0 263.13 L290.0 261.72 L291.0 260.16 L292.0 258.47 L293.0 256.69 L294.0 254.83 L295.0 252.94 L296.0 251.07 L297.0 249.19 L298.0 247.31 L299.0 245.32 L300.0 243.23 L301.0 241.04 L302.0 238.85 L303.0 236.66 L304.0 234.57 L305.0 232.58 L306.0 230.69 L307.0 228.75 L308.0 226.76 L309.0 224.71 L310.0 222.71 L311.0 220.78 L312.0 218.90 L313.0 217.03 L314.0 215.16 L315.0 213.30 L316.0 211.44 L317.0 209.66 L318.0 207.97 L319.0 206.34 L320.0 204.77 L321.0 203.30 L322.0 201.98 L323.0 200.76 L324.0 199.61 L325.0 198.46 L326.0 197.31 L327.0 196.15 L328.0 194.95 L329.0 193.72 L330.0 192.49 L331.0 191.25 L332.0 190.01 L333.0 188.78 L334.0 187.56 L335.0 186.37 L336.0 185.21 L337.0 184.06 L338.0 182.91 L339.0 181.76 L340.0 180.62 L341.0 179.47 L342.0 178.32 L343.0 177.16 L344.0 175.95 L345.0 174.70 L346.0 173.38 L347.0 172.07 L348.0 170.74 L349.0 169.39 L350.0 167.90 L351.0 166.30 L352.0 164.59 L353.0 162.60 L354.0 160.11 L355.0 157.23 L356.0 154.37 L357.0 151.78 L358.0 149.41 L359.0 147.13 L360.0 145.02 L361.0 143.03 L362.0 141.47 L363.0 140.23 L364.0 139.29 L365.0 138.49 L366.0 137.84 L367.0 137.41 L368.0 137.22 L369.0 137.27 L370.0 137.47 L371.0 137.67 L372.0 137.94 L373.0 138.29 L374.0 138.70 L375.0 139.14 L376.0 139.61 L377.0 140.09 L378.0 140.58 L379.0 141.07 L380.0 141.51 L381.0 141.91 L382.0 142.27 L383.0 142.62 L384.0 142.98 L385.0 143.33 L386.0 143.68 L387.0 144.04 L388.0 144.39 L389.0 144.75 L390.0 145.05 L391.0 145.30 L392.0 145.47 L393.0 145.62 L394.0 145.76 L395.0 145.90 L396.0 146.05 L397.0 146.19 L398.0 146.33 L399.0 146.47 L400.0 146.52 L401.0 146.43 L402.0 146.13 L403.0 145.73 L404.0 145.26 L405.0 144.80 L406.0 144.33 L407.0 143.86 L408.0 143.40 L409.0 142.93 L410.0 142.48 L411.0 142.04 L412.0 141.60 L413.0 141.17 L414.0 140.74 L415.0 140.31 L416.0 139.90 L417.0 139.52 L418.0 139.18 L419.0 138.86 L420.0 138.56 L421.0 138.30 L422.0 138.07 L423.0 137.86 L424.0 137.65 L425.0 137.44 L426.0 137.24 L427.0 137.03 L428.0 136.83 L429.0 136.72 L430.0 136.74 L431.0 136.87 L432.0 137.04 L433.0 137.20 L434.0 137.40 L435.0 137.67 L436.0 138.05 L437.0 138.52 L438.0 139.05 L439.0 139.61 L440.0 140.13 L441.0 140.71 L442.0 141.38 L443.0 142.17 L444.0 142.98 L445.0 143.84 L446.0 144.77 L447.0 145.78 L448.0 146.81 L449.0 147.83 L450.0 148.84 L451.0 149.86 L452.0 150.89 L453.0 151.93 L454.0 152.96 L455.0 154.00 L456.0 155.06 L457.0 156.13 L458.0 157.18 L459.0 158.19 L460.0 159.18 L461.0 160.16 L462.0 161.12 L463.0 162.06 L464.0 162.99 L465.0 163.93 L466.0 164.89 L467.0 165.89 L468.0 166.92 L469.0 167.96 L470.0 168.98 L471.0 169.98 L472.0 170.97 L473.0 171.96 L474.0 172.95 L475.0 173.94 L476.0 174.93 L477.0 175.92 L478.0 176.91 L479.0 177.91 L480.0 178.90 L481.0 179.89 L482.0 180.89 L483.0 181.88 L484.0 182.87 L485.0 183.86 L486.0 184.86 L487.0 185.87 L488.0 186.90 L489.0 187.94 L490.0 188.98 L491.0 190.01 L492.0 191.05 L493.0 192.13 L494.0 193.23 L495.0 194.33 L496.0 195.39 L497.0 196.43 L498.0 197.49 L499.0 198.56 L500.0 199.66 L501.0 200.76 L502.0 201.86 L503.0 202.96 L504.0 204.03 L505.0 205.09 L506.0 206.13 L507.0 207.17 L508.0 208.21 L509.0 209.23 L510.0 210.24 L511.0 211.21 L512.0 212.16 L513.0 213.07 L514.0 213.97 L515.0 214.87 L516.0 215.77 L517.0 216.67 L518.0 217.56 L519.0 218.48 L520.0 219.43 L521.0 220.42 L522.0 221.42 L523.0 222.42 L524.0 223.43 L525.0 224.49 L526.0 225.70 L527.0 227.04 L528.0 228.48 L529.0 229.93 L530.0 231.39 L531.0 232.99 L532.0 234.73 L533.0 236.58 L534.0 238.43 L535.0 240.32 L536.0 242.35 L537.0 244.52 L538.0 246.77 L539.0 249.02 L540.0 251.23 L541.0 253.24 L542.0 255.06 L543.0 256.75 L544.0 258.43 L545.0 260.08 L546.0 261.70 L547.0 263.16 L548.0 264.38 L549.0 265.35 L550.0 266.16 L551.0 266.90 L552.0 267.59 L553.0 268.28 L554.0 268.96 L555.0 269.58 L556.0 270.13 L557.0 270.60 L558.0 271.08 L559.0 271.54 L560.0 271.98 L561.0 272.38 L562.0 272.75 L563.0 273.12 L564.0 273.45 L565.0 273.75 L566.0 274.00 L567.0 274.19 L568.0 274.34 L569.0 274.43 L570.0 274.47 L571.0 274.38 L572.0 274.17 L573.0 273.89 L574.0 273.47 L575.0 272.82 L576.0 271.94 L577.0 271.00 L578.0 270.05 L579.0 269.13 L580.0 268.40 L581.0 267.84 L582.0 267.43 L583.0 267.04 L584.0 266.96 L585.0 267.19 L586.0 267.70 L587.0 268.35 L588.0 269.33 L589.0 270.65 L590.0 272.20 L591.0 273.85 L592.0 275.66 L593.0 277.64 L594.0 279.69 L595.0 281.79 L596.0 283.81 L597.0 285.75 L598.0 287.45 L599.0 289.03 L600.0 290.36 L601.0 291.46 L602.0 292.24 L603.0 292.84 L604.0 293.33 L605.0 293.49 L606.0 293.32 L607.0 292.84 L608.0 292.36 L609.0 291.88 L610.0 291.33 L611.0 290.72 L612.0 290.07 L613.0 289.48 L614.0 288.94 L615.0 288.47 L616.0 288.07 L617.0 287.73 L618.0 287.38 L619.0 287.03 L620.0 286.71 L621.0 286.41 L622.0 286.13 L623.0 285.85 L624.0 285.58 L625.0 285.33 L626.0 285.10 L627.0 284.91 L628.0 284.77 L629.0 284.65 L630.0 284.55 L631.0 284.44 L632.0 284.34 L633.0 284.23 L634.0 284.13 L635.0 284.03 L636.0 284.00 L637.0 284.10 L638.0 284.32 L639.0 284.61 L640.0 284.90 L641.0 285.19 L642.0 285.48 L643.0 285.77 L644.0 286.08 L645.0 286.46 L646.0 286.89 L647.0 287.35 L648.0 287.81 L649.0 288.28 L650.0 288.75 L651.0 289.21 L652.0 289.65 L653.0 290.06 L654.0 290.45 L655.0 290.84 L656.0 291.22 L657.0 291.61 L658.0 291.95 L659.0 292.25 L660.0 292.41" stroke="#000080" stroke-width="2.0"/>
<path d="M248.0 287.31 L249.0 286.92 L250.0 286.34 L251.0 285.75 L252.0 285.16 L253.0 284.58 L254.0 283.99 L255.0 283.41 L256.0 282.84 L257.0 282.29 L258.0 281.75 L259.0 281.21 L260.0 280.66 L261.0 280.10 L262.0 279.53 L263.0 278.94 L264.0 278.34 L265.0 277.72 L266.0 277.09 L267.0 276.47 L268.0 275.84 L269.0 275.21 L270.0 274.59 L271.0 273.96 L272.0 273.32 L273.0 272.69 L274.0 272.05 L275.0 271.42 L276.0 270.78 L277.0 270.15 L278.0 269.50 L279.0 268.83 L280.0 268.12 L281.0 267.40 L282.0 266.67 L283.0 265.84 L284.0 264.86 L285.0 263.73 L286.0 262.56 L287.0 261.39 L288.0 260.23 L289.0 258.94 L290.0 257.49 L291.0 255.86 L292.0 254.11 L293.0 252.26 L294.0 250.33 L295.0 248.39 L296.0 246.45 L297.0 244.52 L298.0 242.58 L299.0 240.52 L300.0 238.33 L301.0 236.05 L302.0 233.76 L303.0 231.47 L304.0 229.29 L305.0 227.23 L306.0 225.28 L307.0 223.28 L308.0 221.21 L309.0 219.08 L310.0 217.01 L311.0 215.00 L312.0 213.07 L313.0 211.13 L314.0 209.21 L315.0 207.28 L316.0 205.36 L317.0 203.53 L318.0 201.79 L319.0 200.13 L320.0 198.53 L321.0 197.00 L322.0 195.63 L323.0 194.36 L324.0 193.18 L325.0 192.00 L326.0 190.81 L327.0 189.61 L328.0 188.38 L329.0 187.13 L330.0 185.87 L331.0 184.60 L332.0 183.34 L333.0 182.08 L334.0 180.83 L335.0 179.61 L336.0 178.41 L337.0 177.23 L338.0 176.04 L339.0 174.86 L340.0 173.67 L341.0 172.49 L342.0 171.30 L343.0 170.11 L344.0 168.86 L345.0 167.56 L346.0 166.19 L347.0 164.83 L348.0 163.45 L349.0 162.04 L350.0 160.50 L351.0 158.82 L352.0 157.03 L353.0 154.99 L354.0 152.47 L355.0 149.56 L356.0 146.64 L357.0 143.95 L358.0 141.48 L359.0 139.11 L360.0 136.90 L361.0 134.82 L362.0 133.17 L363.0 131.88 L364.0 130.91 L365.0 130.10 L366.0 129.46 L367.0 129.06 L368.0 128.89 L369.0 128.95 L370.0 129.17 L371.0 129.40 L372.0 129.70 L373.0 130.08 L374.0 130.55 L375.0 131.03 L376.0 131.54 L377.0 132.06 L378.0 132.59 L379.0 133.12 L380.0 133.60 L381.0 134.03 L382.0 134.41 L383.0 134.79 L384.0 135.17 L385.0 135.55 L386.0 135.92 L387.0 136.30 L388.0 136.68 L389.0 137.06 L390.0 137.39 L391.0 137.65 L392.0 137.83 L393.0 138.00 L394.0 138.16 L395.0 138.32 L396.0 138.47 L397.0 138.63 L398.0 138.79 L399.0 138.95 L400.0 139.00 L401.0 138.91 L402.0 138.61 L403.0 138.22 L404.0 137.77 L405.0 137.32 L406.0 136.87 L407.0 136.42 L408.0 135.97 L409.0 135.52 L410.0 135.09 L411.0 134.66 L412.0 134.24 L413.0 133.82 L414.0 133.40 L415.0 132.98 L416.0 132.59 L417.0 132.23 L418.0 131.92 L419.0 131.62 L420.0 131.34 L421.0 131.10 L422.0 130.89 L423.0 130.69 L424.0 130.50 L425.0 130.31 L426.0 130.11 L427.0 129.92 L428.0 129.73 L429.0 129.63 L430.0 129.66 L431.0 129.80 L432.0 129.98 L433.0 130.16 L434.0 130.37 L435.0 130.67 L436.0 131.07 L437.0 131.57 L438.0 132.12 L439.0 132.70 L440.0 133.25 L441.0 133.87 L442.0 134.59 L443.0 135.45 L444.0 136.33 L445.0 137.26 L446.0 138.25 L447.0 139.31 L448.0 140.38 L449.0 141.45 L450.0 142.51 L451.0 143.57 L452.0 144.64 L453.0 145.71 L454.0 146.79 L455.0 147.87 L456.0 148.96 L457.0 150.06 L458.0 151.14 L459.0 152.17 L460.0 153.19 L461.0 154.19 L462.0 155.17 L463.0 156.13 L464.0 157.09 L465.0 158.06 L466.0 159.05 L467.0 160.08 L468.0 161.14 L469.0 162.20 L470.0 163.25 L471.0 164.28 L472.0 165.29 L473.0 166.30 L474.0 167.31 L475.0 168.32 L476.0 169.34 L477.0 170.35 L478.0 171.37 L479.0 172.38 L480.0 173.39 L481.0 174.41 L482.0 175.42 L483.0 176.43 L484.0 177.44 L485.0 178.45 L486.0 179.47 L487.0 180.51 L488.0 181.57 L489.0 182.63 L490.0 183.70 L491.0 184.76 L492.0 185.83 L493.0 186.93 L494.0 188.05 L495.0 189.16 L496.0 190.23 L497.0 191.27 L498.0 192.33 L499.0 193.41 L500.0 194.50 L501.0 195.60 L502.0 196.70 L503.0 197.80 L504.0 198.89 L505.0 199.96 L506.0 201.02 L507.0 202.07 L508.0 203.13 L509.0 204.17 L510.0 205.20 L511.0 206.19 L512.0 207.15 L513.0 208.08 L514.0 208.99 L515.0 209.90 L516.0 210.81 L517.0 211.72 L518.0 212.63 L519.0 213.55 L520.0 214.51 L521.0 215.50 L522.0 216.50 L523.0 217.50 L524.0 218.51 L525.0 219.57 L526.0 220.77 L527.0 222.12 L528.0 223.59 L529.0 225.05 L530.0 226.53 L531.0 228.16 L532.0 229.94 L533.0 231.84 L534.0 233.74 L535.0 235.68 L536.0 237.77 L537.0 239.99 L538.0 242.32 L539.0 244.65 L540.0 246.93 L541.0 249.01 L542.0 250.88 L543.0 252.60 L544.0 254.31 L545.0 256.00 L546.0 257.65 L547.0 259.14 L548.0 260.36 L549.0 261.32 L550.0 262.09 L551.0 262.81 L552.0 263.49 L553.0 264.16 L554.0 264.84 L555.0 265.45 L556.0 266.00 L557.0 266.48 L558.0 266.96 L559.0 267.44 L560.0 267.88 L561.0 268.30 L562.0 268.69 L563.0 269.07 L564.0 269.42 L565.0 269.72 L566.0 269.98 L567.0 270.18 L568.0 270.34 L569.0 270.45 L570.0 270.50 L571.0 270.41 L572.0 270.18 L573.0 269.88 L574.0 269.44 L575.0 268.78 L576.0 267.89 L577.0 266.93 L578.0 265.96 L579.0 265.02 L580.0 264.26 L581.0 263.67 L582.0 263.23 L583.0 262.81 L584.0 262.71 L585.0 262.92 L586.0 263.43 L587.0 264.07 L588.0 265.07 L589.0 266.41 L590.0 267.98 L591.0 269.65 L592.0 271.51 L593.0 273.52 L594.0 275.61 L595.0 277.75 L596.0 279.83 L597.0 281.83 L598.0 283.60 L599.0 285.23 L600.0 286.61 L601.0 287.76 L602.0 288.59 L603.0 289.22 L604.0 289.72 L605.0 289.90 L606.0 289.74 L607.0 289.26 L608.0 288.78 L609.0 288.30 L610.0 287.75 L611.0 287.12 L612.0 286.46 L613.0 285.83 L614.0 285.26 L615.0 284.77 L616.0 284.34 L617.0 283.98 L618.0 283.62 L619.0 283.26 L620.0 282.92 L621.0 282.61 L622.0 282.33 L623.0 282.04 L624.0 281.76 L625.0 281.50 L626.0 281.26 L627.0 281.07 L628.0 280.91 L629.0 280.80 L630.0 280.69 L631.0 280.58 L632.0 280.47 L633.0 280.37 L634.0 280.26 L635.0 280.16 L636.0 280.12 L637.0 280.22 L638.0 280.43 L639.0 280.72 L640.0 281.01 L641.0 281.31 L642.0 281.60 L643.0 281.89 L644.0 282.21 L645.0 282.60 L646.0 283.05 L647.0 283.53 L648.0 284.02 L649.0 284.51 L650.0 285.00 L651.0 285.48 L652.0 285.94 L653.0 286.36 L654.0 286.77 L655.0 287.17 L656.0 287.57 L657.0 287.97 L658.0 288.32 L659.0 288.62 L660.0 288.79" stroke="#7000e8" stroke-width="2.0"/>
<path d="M248.0 283.03 L249.0 282.62 L250.0 282.01 L251.0 281.40 L252.0 280.78 L253.0 280.17 L254.0 279.55 L255.0 278.94 L256.0 278.35 L257.0 277.78 L258.0 277.22 L259.0 276.65 L260.0 276.08 L261.0 275.50 L262.0 274.91 L263.0 274.31 L264.0 273.68 L265.0 273.04 L266.0 272.39 L267.0 271.74 L268.0 271.09 L269.0 270.44 L270.0 269.79 L271.0 269.14 L272.0 268.49 L273.0 267.85 L274.0 267.20 L275.0 266.56 L276.0 265.91 L277.0 265.27 L278.0 264.61 L279.0 263.92 L280.0 263.20 L281.0 262.45 L282.0 261.71 L283.0 260.88 L284.0 259.90 L285.0 258.78 L286.0 257.60 L287.0 256.42 L288.0 255.23 L289.0 253.91 L290.0 252.39 L291.0 250.68 L292.0 248.85 L293.0 246.93 L294.0 244.93 L295.0 242.91 L296.0 240.90 L297.0 238.90 L298.0 236.88 L299.0 234.73 L300.0 232.44 L301.0 230.04 L302.0 227.63 L303.0 225.23 L304.0 222.95 L305.0 220.80 L306.0 218.77 L307.0 216.68 L308.0 214.53 L309.0 212.30 L310.0 210.14 L311.0 208.05 L312.0 206.04 L313.0 204.04 L314.0 202.04 L315.0 200.04 L316.0 198.05 L317.0 196.16 L318.0 194.36 L319.0 192.66 L320.0 191.01 L321.0 189.42 L322.0 187.99 L323.0 186.67 L324.0 185.44 L325.0 184.22 L326.0 182.99 L327.0 181.75 L328.0 180.48 L329.0 179.19 L330.0 177.90 L331.0 176.60 L332.0 175.31 L333.0 174.01 L334.0 172.73 L335.0 171.47 L336.0 170.23 L337.0 169.00 L338.0 167.77 L339.0 166.55 L340.0 165.32 L341.0 164.09 L342.0 162.86 L343.0 161.63 L344.0 160.33 L345.0 158.97 L346.0 157.54 L347.0 156.10 L348.0 154.66 L349.0 153.20 L350.0 151.59 L351.0 149.83 L352.0 147.94 L353.0 145.84 L354.0 143.27 L355.0 140.32 L356.0 137.32 L357.0 134.52 L358.0 131.94 L359.0 129.45 L360.0 127.14 L361.0 124.93 L362.0 123.18 L363.0 121.82 L364.0 120.82 L365.0 120.01 L366.0 119.38 L367.0 119.00 L368.0 118.85 L369.0 118.93 L370.0 119.19 L371.0 119.44 L372.0 119.78 L373.0 120.21 L374.0 120.73 L375.0 121.27 L376.0 121.82 L377.0 122.40 L378.0 122.97 L379.0 123.55 L380.0 124.07 L381.0 124.54 L382.0 124.95 L383.0 125.35 L384.0 125.76 L385.0 126.17 L386.0 126.58 L387.0 126.99 L388.0 127.40 L389.0 127.81 L390.0 128.16 L391.0 128.44 L392.0 128.64 L393.0 128.83 L394.0 129.01 L395.0 129.18 L396.0 129.36 L397.0 129.54 L398.0 129.72 L399.0 129.90 L400.0 129.95 L401.0 129.86 L402.0 129.56 L403.0 129.18 L404.0 128.75 L405.0 128.32 L406.0 127.89 L407.0 127.46 L408.0 127.03 L409.0 126.61 L410.0 126.19 L411.0 125.77 L412.0 125.37 L413.0 124.97 L414.0 124.57 L415.0 124.17 L416.0 123.79 L417.0 123.46 L418.0 123.17 L419.0 122.90 L420.0 122.66 L421.0 122.44 L422.0 122.24 L423.0 122.07 L424.0 121.89 L425.0 121.71 L426.0 121.54 L427.0 121.36 L428.0 121.19 L429.0 121.10 L430.0 121.14 L431.0 121.29 L432.0 121.48 L433.0 121.67 L434.0 121.90 L435.0 122.23 L436.0 122.67 L437.0 123.21 L438.0 123.79 L439.0 124.39 L440.0 124.96 L441.0 125.63 L442.0 126.42 L443.0 127.36 L444.0 128.32 L445.0 129.33 L446.0 130.39 L447.0 131.51 L448.0 132.65 L449.0 133.77 L450.0 134.88 L451.0 135.99 L452.0 137.11 L453.0 138.23 L454.0 139.35 L455.0 140.48 L456.0 141.62 L457.0 142.76 L458.0 143.87 L459.0 144.93 L460.0 145.97 L461.0 147.00 L462.0 148.01 L463.0 149.00 L464.0 150.00 L465.0 150.99 L466.0 152.02 L467.0 153.08 L468.0 154.17 L469.0 155.27 L470.0 156.35 L471.0 157.41 L472.0 158.45 L473.0 159.49 L474.0 160.53 L475.0 161.56 L476.0 162.60 L477.0 163.64 L478.0 164.68 L479.0 165.73 L480.0 166.76 L481.0 167.80 L482.0 168.84 L483.0 169.87 L484.0 170.91 L485.0 171.95 L486.0 172.99 L487.0 174.06 L488.0 175.15 L489.0 176.25 L490.0 177.35 L491.0 178.44 L492.0 179.54 L493.0 180.67 L494.0 181.81 L495.0 182.93 L496.0 184.01 L497.0 185.06 L498.0 186.13 L499.0 187.20 L500.0 188.30 L501.0 189.39 L502.0 190.49 L503.0 191.60 L504.0 192.69 L505.0 193.79 L506.0 194.86 L507.0 195.94 L508.0 197.01 L509.0 198.08 L510.0 199.13 L511.0 200.15 L512.0 201.13 L513.0 202.06 L514.0 202.99 L515.0 203.92 L516.0 204.84 L517.0 205.76 L518.0 206.69 L519.0 207.62 L520.0 208.59 L521.0 209.58 L522.0 210.58 L523.0 211.58 L524.0 212.59 L525.0 213.64 L526.0 214.84 L527.0 216.20 L528.0 217.69 L529.0 219.18 L530.0 220.68 L531.0 222.35 L532.0 224.17 L533.0 226.13 L534.0 228.09 L535.0 230.09 L536.0 232.25 L537.0 234.55 L538.0 236.97 L539.0 239.39 L540.0 241.76 L541.0 243.91 L542.0 245.84 L543.0 247.60 L544.0 249.35 L545.0 251.08 L546.0 252.78 L547.0 254.31 L548.0 255.53 L549.0 256.46 L550.0 257.19 L551.0 257.89 L552.0 258.55 L553.0 259.21 L554.0 259.87 L555.0 260.47 L556.0 261.02 L557.0 261.52 L558.0 262.01 L559.0 262.49 L560.0 262.95 L561.0 263.39 L562.0 263.79 L563.0 264.20 L564.0 264.57 L565.0 264.88 L566.0 265.14 L567.0 265.35 L568.0 265.53 L569.0 265.67 L570.0 265.73 L571.0 265.63 L572.0 265.38 L573.0 265.06 L574.0 264.60 L575.0 263.92 L576.0 263.02 L577.0 262.02 L578.0 261.03 L579.0 260.07 L580.0 259.28 L581.0 258.66 L582.0 258.19 L583.0 257.73 L584.0 257.60 L585.0 257.79 L586.0 258.28 L587.0 258.93 L588.0 259.93 L589.0 261.31 L590.0 262.89 L591.0 264.61 L592.0 266.51 L593.0 268.57 L594.0 270.70 L595.0 272.89 L596.0 275.03 L597.0 277.12 L598.0 278.96 L599.0 280.66 L600.0 282.10 L601.0 283.32 L602.0 284.21 L603.0 284.86 L604.0 285.39 L605.0 285.58 L606.0 285.43 L607.0 284.95 L608.0 284.48 L609.0 284.00 L610.0 283.44 L611.0 282.80 L612.0 282.10 L613.0 281.44 L614.0 280.83 L615.0 280.31 L616.0 279.86 L617.0 279.48 L618.0 279.10 L619.0 278.72 L620.0 278.37 L621.0 278.05 L622.0 277.75 L623.0 277.46 L624.0 277.17 L625.0 276.90 L626.0 276.64 L627.0 276.43 L628.0 276.27 L629.0 276.15 L630.0 276.04 L631.0 275.93 L632.0 275.82 L633.0 275.72 L634.0 275.61 L635.0 275.51 L636.0 275.45 L637.0 275.54 L638.0 275.75 L639.0 276.04 L640.0 276.34 L641.0 276.63 L642.0 276.93 L643.0 277.23 L644.0 277.56 L645.0 277.96 L646.0 278.43 L647.0 278.94 L648.0 279.45 L649.0 279.97 L650.0 280.48 L651.0 280.99 L652.0 281.47 L653.0 281.92 L654.0 282.33 L655.0 282.75 L656.0 283.16 L657.0 283.58 L658.0 283.94 L659.0 284.25 L660.0 284.42" stroke="#800080" stroke-width="2.0"/>
<path d="M248.0 279.22 L249.0 278.79 L250.0 278.15 L251.0 277.51 L252.0 276.87 L253.0 276.23 L254.0 275.59 L255.0 274.96 L256.0 274.35 L257.0 273.75 L258.0 273.17 L259.0 272.59 L260.0 272.00 L261.0 271.40 L262.0 270.80 L263.0 270.17 L264.0 269.53 L265.0 268.86 L266.0 268.19 L267.0 267.52 L268.0 266.85 L269.0 266.17 L270.0 265.50 L271.0 264.84 L272.0 264.18 L273.0 263.53 L274.0 262.87 L275.0 262.22 L276.0 261.57 L277.0 260.92 L278.0 260.25 L279.0 259.55 L280.0 258.81 L281.0 258.05 L282.0 257.28 L283.0 256.45 L284.0 255.48 L285.0 254.37 L286.0 253.18 L287.0 251.98 L288.0 250.77 L289.0 249.41 L290.0 247.85 L291.0 246.07 L292.0 244.16 L293.0 242.17 L294.0 240.10 L295.0 238.02 L296.0 235.95 L297.0 233.88 L298.0 231.79 L299.0 229.56 L300.0 227.18 L301.0 224.68 L302.0 222.17 L303.0 219.66 L304.0 217.29 L305.0 215.05 L306.0 212.96 L307.0 210.80 L308.0 208.57 L309.0 206.25 L310.0 204.01 L311.0 201.85 L312.0 199.78 L313.0 197.71 L314.0 195.64 L315.0 193.57 L316.0 191.52 L317.0 189.57 L318.0 187.73 L319.0 186.00 L320.0 184.30 L321.0 182.66 L322.0 181.17 L323.0 179.81 L324.0 178.54 L325.0 177.27 L326.0 176.01 L327.0 174.73 L328.0 173.43 L329.0 172.11 L330.0 170.79 L331.0 169.46 L332.0 168.14 L333.0 166.81 L334.0 165.50 L335.0 164.20 L336.0 162.93 L337.0 161.66 L338.0 160.40 L339.0 159.13 L340.0 157.86 L341.0 156.60 L342.0 155.33 L343.0 154.06 L344.0 152.71 L345.0 151.30 L346.0 149.81 L347.0 148.32 L348.0 146.83 L349.0 145.31 L350.0 143.63 L351.0 141.80 L352.0 139.83 L353.0 137.67 L354.0 135.06 L355.0 132.08 L356.0 129.01 L357.0 126.11 L358.0 123.42 L359.0 120.84 L360.0 118.43 L361.0 116.10 L362.0 114.26 L363.0 112.84 L364.0 111.82 L365.0 111.00 L366.0 110.39 L367.0 110.03 L368.0 109.90 L369.0 110.00 L370.0 110.27 L371.0 110.55 L372.0 110.92 L373.0 111.40 L374.0 111.97 L375.0 112.55 L376.0 113.15 L377.0 113.77 L378.0 114.39 L379.0 115.01 L380.0 115.57 L381.0 116.07 L382.0 116.50 L383.0 116.94 L384.0 117.38 L385.0 117.81 L386.0 118.25 L387.0 118.69 L388.0 119.12 L389.0 119.56 L390.0 119.93 L391.0 120.23 L392.0 120.44 L393.0 120.64 L394.0 120.84 L395.0 121.03 L396.0 121.23 L397.0 121.43 L398.0 121.62 L399.0 121.82 L400.0 121.88 L401.0 121.78 L402.0 121.49 L403.0 121.12 L404.0 120.70 L405.0 120.29 L406.0 119.88 L407.0 119.47 L408.0 119.06 L409.0 118.65 L410.0 118.24 L411.0 117.85 L412.0 117.46 L413.0 117.07 L414.0 116.69 L415.0 116.30 L416.0 115.94 L417.0 115.62 L418.0 115.36 L419.0 115.13 L420.0 114.90 L421.0 114.70 L422.0 114.53 L423.0 114.37 L424.0 114.21 L425.0 114.05 L426.0 113.89 L427.0 113.73 L428.0 113.57 L429.0 113.49 L430.0 113.53 L431.0 113.69 L432.0 113.90 L433.0 114.10 L434.0 114.35 L435.0 114.70 L436.0 115.17 L437.0 115.74 L438.0 116.35 L439.0 116.97 L440.0 117.57 L441.0 118.28 L442.0 119.13 L443.0 120.14 L444.0 121.18 L445.0 122.26 L446.0 123.38 L447.0 124.55 L448.0 125.74 L449.0 126.92 L450.0 128.08 L451.0 129.23 L452.0 130.39 L453.0 131.56 L454.0 132.72 L455.0 133.89 L456.0 135.07 L457.0 136.24 L458.0 137.38 L459.0 138.47 L460.0 139.53 L461.0 140.58 L462.0 141.62 L463.0 142.64 L464.0 143.66 L465.0 144.69 L466.0 145.75 L467.0 146.84 L468.0 147.96 L469.0 149.09 L470.0 150.20 L471.0 151.28 L472.0 152.34 L473.0 153.41 L474.0 154.47 L475.0 155.53 L476.0 156.59 L477.0 157.66 L478.0 158.72 L479.0 159.79 L480.0 160.85 L481.0 161.91 L482.0 162.97 L483.0 164.03 L484.0 165.08 L485.0 166.14 L486.0 167.21 L487.0 168.31 L488.0 169.42 L489.0 170.55 L490.0 171.68 L491.0 172.80 L492.0 173.93 L493.0 175.08 L494.0 176.25 L495.0 177.38 L496.0 178.47 L497.0 179.53 L498.0 180.59 L499.0 181.67 L500.0 182.76 L501.0 183.86 L502.0 184.95 L503.0 186.06 L504.0 187.17 L505.0 188.28 L506.0 189.37 L507.0 190.47 L508.0 191.56 L509.0 192.64 L510.0 193.72 L511.0 194.76 L512.0 195.75 L513.0 196.70 L514.0 197.64 L515.0 198.58 L516.0 199.51 L517.0 200.45 L518.0 201.38 L519.0 202.33 L520.0 203.30 L521.0 204.29 L522.0 205.29 L523.0 206.29 L524.0 207.30 L525.0 208.34 L526.0 209.55 L527.0 210.92 L528.0 212.43 L529.0 213.94 L530.0 215.46 L531.0 217.16 L532.0 219.02 L533.0 221.04 L534.0 223.05 L535.0 225.11 L536.0 227.32 L537.0 229.70 L538.0 232.20 L539.0 234.69 L540.0 237.15 L541.0 239.37 L542.0 241.35 L543.0 243.14 L544.0 244.93 L545.0 246.70 L546.0 248.44 L547.0 250.00 L548.0 251.22 L549.0 252.12 L550.0 252.82 L551.0 253.50 L552.0 254.14 L553.0 254.79 L554.0 255.43 L555.0 256.03 L556.0 256.59 L557.0 257.09 L558.0 257.59 L559.0 258.08 L560.0 258.55 L561.0 259.00 L562.0 259.43 L563.0 259.86 L564.0 260.23 L565.0 260.55 L566.0 260.82 L567.0 261.04 L568.0 261.23 L569.0 261.39 L570.0 261.47 L571.0 261.37 L572.0 261.10 L573.0 260.75 L574.0 260.28 L575.0 259.59 L576.0 258.67 L577.0 257.65 L578.0 256.63 L579.0 255.65 L580.0 254.84 L581.0 254.19 L582.0 253.68 L583.0 253.19 L584.0 253.03 L585.0 253.21 L586.0 253.68 L587.0 254.33 L588.0 255.36 L589.0 256.75 L590.0 258.36 L591.0 260.11 L592.0 262.05 L593.0 264.15 L594.0 266.32 L595.0 268.55 L596.0 270.75 L597.0 272.91 L598.0 274.83 L599.0 276.58 L600.0 278.07 L601.0 279.35 L602.0 280.29 L603.0 280.97 L604.0 281.52 L605.0 281.72 L606.0 281.58 L607.0 281.11 L608.0 280.63 L609.0 280.16 L610.0 279.60 L611.0 278.94 L612.0 278.22 L613.0 277.53 L614.0 276.88 L615.0 276.32 L616.0 275.85 L617.0 275.46 L618.0 275.06 L619.0 274.67 L620.0 274.30 L621.0 273.97 L622.0 273.67 L623.0 273.37 L624.0 273.07 L625.0 272.79 L626.0 272.52 L627.0 272.30 L628.0 272.13 L629.0 272.01 L630.0 271.90 L631.0 271.79 L632.0 271.68 L633.0 271.57 L634.0 271.45 L635.0 271.35 L636.0 271.29 L637.0 271.36 L638.0 271.57 L639.0 271.87 L640.0 272.17 L641.0 272.47 L642.0 272.77 L643.0 273.06 L644.0 273.40 L645.0 273.82 L646.0 274.31 L647.0 274.84 L648.0 275.38 L649.0 275.92 L650.0 276.45 L651.0 276.99 L652.0 277.49 L653.0 277.95 L654.0 278.37 L655.0 278.80 L656.0 279.23 L657.0 279.66 L658.0 280.03 L659.0 280.35 L660.0 280.53" stroke="#780000" stroke-width="2.0"/>
<path d="M248.0 274.94 L249.0 274.49 L250.0 273.82 L251.0 273.16 L252.0 272.49 L253.0 271.82 L254.0 271.15 L255.0 270.49 L256.0 269.86 L257.0 269.24 L258.0 268.63 L259.0 268.03 L260.0 267.42 L261.0 266.80 L262.0 266.18 L263.0 265.54 L264.0 264.87 L265.0 264.18 L266.0 263.49 L267.0 262.79 L268.0 262.09 L269.0 261.40 L270.0 260.70 L271.0 260.02 L272.0 259.35 L273.0 258.68 L274.0 258.02 L275.0 257.36 L276.0 256.70 L277.0 256.04 L278.0 255.36 L279.0 254.64 L280.0 253.89 L281.0 253.10 L282.0 252.32 L283.0 251.48 L284.0 250.52 L285.0 249.42 L286.0 248.23 L287.0 247.00 L288.0 245.77 L289.0 244.38 L290.0 242.75 L291.0 240.89 L292.0 238.91 L293.0 236.84 L294.0 234.70 L295.0 232.54 L296.0 230.39 L297.0 228.25 L298.0 226.09 L299.0 223.77 L300.0 221.29 L301.0 218.67 L302.0 216.04 L303.0 213.41 L304.0 210.94 L305.0 208.62 L306.0 206.45 L307.0 204.21 L308.0 201.88 L309.0 199.47 L310.0 197.14 L311.0 194.90 L312.0 192.76 L313.0 190.61 L314.0 188.47 L315.0 186.33 L316.0 184.20 L317.0 182.19 L318.0 180.30 L319.0 178.52 L320.0 176.78 L321.0 175.08 L322.0 173.53 L323.0 172.11 L324.0 170.80 L325.0 169.49 L326.0 168.18 L327.0 166.86 L328.0 165.53 L329.0 164.18 L330.0 162.82 L331.0 161.46 L332.0 160.10 L333.0 158.74 L334.0 157.40 L335.0 156.06 L336.0 154.75 L337.0 153.44 L338.0 152.13 L339.0 150.82 L340.0 149.51 L341.0 148.20 L342.0 146.88 L343.0 145.57 L344.0 144.18 L345.0 142.71 L346.0 141.15 L347.0 139.60 L348.0 138.04 L349.0 136.47 L350.0 134.72 L351.0 132.81 L352.0 130.73 L353.0 128.51 L354.0 125.86 L355.0 122.85 L356.0 119.70 L357.0 116.68 L358.0 113.87 L359.0 111.18 L360.0 108.66 L361.0 106.21 L362.0 104.27 L363.0 102.78 L364.0 101.74 L365.0 100.91 L366.0 100.31 L367.0 99.97 L368.0 99.86 L369.0 99.98 L370.0 100.29 L371.0 100.59 L372.0 101.00 L373.0 101.52 L374.0 102.15 L375.0 102.79 L376.0 103.44 L377.0 104.11 L378.0 104.77 L379.0 105.44 L380.0 106.04 L381.0 106.57 L382.0 107.04 L383.0 107.51 L384.0 107.98 L385.0 108.44 L386.0 108.91 L387.0 109.38 L388.0 109.84 L389.0 110.31 L390.0 110.71 L391.0 111.02 L392.0 111.25 L393.0 111.47 L394.0 111.69 L395.0 111.90 L396.0 112.12 L397.0 112.33 L398.0 112.55 L399.0 112.76 L400.0 112.83 L401.0 112.73 L402.0 112.44 L403.0 112.08 L404.0 111.69 L405.0 111.29 L406.0 110.90 L407.0 110.51 L408.0 110.12 L409.0 109.73 L410.0 109.34 L411.0 108.97 L412.0 108.59 L413.0 108.22 L414.0 107.85 L415.0 107.48 L416.0 107.14 L417.0 106.85 L418.0 106.62 L419.0 106.41 L420.0 106.22 L421.0 106.04 L422.0 105.89 L423.0 105.74 L424.0 105.60 L425.0 105.46 L426.0 105.31 L427.0 105.17 L428.0 105.03 L429.0 104.96 L430.0 105.01 L431.0 105.18 L432.0 105.40 L433.0 105.62 L434.0 105.88 L435.0 106.26 L436.0 106.77 L437.0 107.37 L438.0 108.01 L439.0 108.66 L440.0 109.29 L441.0 110.04 L442.0 110.96 L443.0 112.05 L444.0 113.18 L445.0 114.33 L446.0 115.53 L447.0 116.76 L448.0 118.00 L449.0 119.24 L450.0 120.45 L451.0 121.66 L452.0 122.87 L453.0 124.08 L454.0 125.29 L455.0 126.50 L456.0 127.72 L457.0 128.94 L458.0 130.11 L459.0 131.22 L460.0 132.31 L461.0 133.39 L462.0 134.45 L463.0 135.51 L464.0 136.56 L465.0 137.62 L466.0 138.71 L467.0 139.84 L468.0 141.00 L469.0 142.16 L470.0 143.30 L471.0 144.41 L472.0 145.50 L473.0 146.59 L474.0 147.68 L475.0 148.77 L476.0 149.86 L477.0 150.95 L478.0 152.04 L479.0 153.13 L480.0 154.22 L481.0 155.30 L482.0 156.39 L483.0 157.47 L484.0 158.55 L485.0 159.64 L486.0 160.73 L487.0 161.86 L488.0 163.00 L489.0 164.16 L490.0 165.32 L491.0 166.48 L492.0 167.64 L493.0 168.83 L494.0 170.01 L495.0 171.16 L496.0 172.26 L497.0 173.32 L498.0 174.39 L499.0 175.47 L500.0 176.56 L501.0 177.65 L502.0 178.74 L503.0 179.85 L504.0 180.97 L505.0 182.10 L506.0 183.22 L507.0 184.33 L508.0 185.45 L509.0 186.55 L510.0 187.65 L511.0 188.71 L512.0 189.72 L513.0 190.69 L514.0 191.64 L515.0 192.59 L516.0 193.54 L517.0 194.49 L518.0 195.44 L519.0 196.40 L520.0 197.38 L521.0 198.37 L522.0 199.37 L523.0 200.37 L524.0 201.38 L525.0 202.41 L526.0 203.62 L527.0 205.00 L528.0 206.54 L529.0 208.07 L530.0 209.62 L531.0 211.34 L532.0 213.25 L533.0 215.33 L534.0 217.41 L535.0 219.52 L536.0 221.80 L537.0 224.26 L538.0 226.84 L539.0 229.43 L540.0 231.98 L541.0 234.27 L542.0 236.31 L543.0 238.14 L544.0 239.97 L545.0 241.78 L546.0 243.57 L547.0 245.16 L548.0 246.39 L549.0 247.26 L550.0 247.92 L551.0 248.57 L552.0 249.20 L553.0 249.83 L554.0 250.46 L555.0 251.06 L556.0 251.61 L557.0 252.12 L558.0 252.63 L559.0 253.13 L560.0 253.62 L561.0 254.09 L562.0 254.54 L563.0 254.99 L564.0 255.38 L565.0 255.71 L566.0 255.98 L567.0 256.21 L568.0 256.42 L569.0 256.60 L570.0 256.69 L571.0 256.59 L572.0 256.31 L573.0 255.93 L574.0 255.44 L575.0 254.73 L576.0 253.79 L577.0 252.75 L578.0 251.70 L579.0 250.70 L580.0 249.86 L581.0 249.18 L582.0 248.63 L583.0 248.11 L584.0 247.92 L585.0 248.07 L586.0 248.54 L587.0 249.19 L588.0 250.22 L589.0 251.65 L590.0 253.28 L591.0 255.07 L592.0 257.04 L593.0 259.20 L594.0 261.41 L595.0 263.69 L596.0 265.96 L597.0 268.20 L598.0 270.19 L599.0 272.01 L600.0 273.56 L601.0 274.91 L602.0 275.90 L603.0 276.62 L604.0 277.18 L605.0 277.40 L606.0 277.27 L607.0 276.80 L608.0 276.33 L609.0 275.86 L610.0 275.29 L611.0 274.62 L612.0 273.86 L613.0 273.14 L614.0 272.45 L615.0 271.86 L616.0 271.37 L617.0 270.95 L618.0 270.54 L619.0 270.13 L620.0 269.75 L621.0 269.40 L622.0 269.09 L623.0 268.78 L624.0 268.48 L625.0 268.18 L626.0 267.90 L627.0 267.67 L628.0 267.49 L629.0 267.37 L630.0 267.25 L631.0 267.14 L632.0 267.03 L633.0 266.91 L634.0 266.80 L635.0 266.69 L636.0 266.62 L637.0 266.69 L638.0 266.88 L639.0 267.19 L640.0 267.49 L641.0 267.79 L642.0 268.10 L643.0 268.40 L644.0 268.75 L645.0 269.18 L646.0 269.69 L647.0 270.25 L648.0 270.81 L649.0 271.38 L650.0 271.94 L651.0 272.50 L652.0 273.02 L653.0 273.50 L654.0 273.94 L655.0 274.38 L656.0 274.83 L657.0 275.27 L658.0 275.66 L659.0 275.98 L660.0 276.17" stroke="#848410" stroke-width="2.0"/>
<path d="M248.0 270.72 L249.0 270.26 L250.0 269.56 L251.0 268.87 L252.0 268.17 L253.0 267.48 L254.0 266.78 L255.0 266.10 L256.0 265.43 L257.0 264.79 L258.0 264.17 L259.0 263.54 L260.0 262.91 L261.0 262.28 L262.0 261.63 L263.0 260.97 L264.0 260.29 L265.0 259.58 L266.0 258.86 L267.0 258.13 L268.0 257.41 L269.0 256.69 L270.0 255.97 L271.0 255.27 L272.0 254.59 L273.0 253.92 L274.0 253.25 L275.0 252.58 L276.0 251.90 L277.0 251.23 L278.0 250.55 L279.0 249.82 L280.0 249.04 L281.0 248.24 L282.0 247.44 L283.0 246.59 L284.0 245.64 L285.0 244.55 L286.0 243.35 L287.0 242.10 L288.0 240.85 L289.0 239.42 L290.0 237.74 L291.0 235.80 L292.0 233.73 L293.0 231.59 L294.0 229.38 L295.0 227.15 L296.0 224.92 L297.0 222.71 L298.0 220.48 L299.0 218.07 L300.0 215.49 L301.0 212.75 L302.0 210.01 L303.0 207.27 L304.0 204.69 L305.0 202.28 L306.0 200.04 L307.0 197.72 L308.0 195.30 L309.0 192.80 L310.0 190.38 L311.0 188.06 L312.0 185.84 L313.0 183.62 L314.0 181.41 L315.0 179.20 L316.0 177.00 L317.0 174.93 L318.0 172.99 L319.0 171.17 L320.0 169.37 L321.0 167.61 L322.0 166.01 L323.0 164.54 L324.0 163.19 L325.0 161.83 L326.0 160.48 L327.0 159.12 L328.0 157.75 L329.0 156.36 L330.0 154.97 L331.0 153.58 L332.0 152.19 L333.0 150.80 L334.0 149.42 L335.0 148.05 L336.0 146.69 L337.0 145.34 L338.0 143.99 L339.0 142.63 L340.0 141.28 L341.0 139.93 L342.0 138.57 L343.0 137.22 L344.0 135.78 L345.0 134.25 L346.0 132.63 L347.0 131.02 L348.0 129.39 L349.0 127.76 L350.0 125.94 L351.0 123.95 L352.0 121.78 L353.0 119.49 L354.0 116.80 L355.0 113.76 L356.0 110.53 L357.0 107.40 L358.0 104.48 L359.0 101.68 L360.0 99.05 L361.0 96.47 L362.0 94.43 L363.0 92.88 L364.0 91.80 L365.0 90.97 L366.0 90.38 L367.0 90.07 L368.0 89.98 L369.0 90.12 L370.0 90.45 L371.0 90.78 L372.0 91.23 L373.0 91.80 L374.0 92.48 L375.0 93.17 L376.0 93.88 L377.0 94.59 L378.0 95.30 L379.0 96.02 L380.0 96.66 L381.0 97.23 L382.0 97.72 L383.0 98.22 L384.0 98.72 L385.0 99.22 L386.0 99.71 L387.0 100.21 L388.0 100.71 L389.0 101.20 L390.0 101.62 L391.0 101.96 L392.0 102.21 L393.0 102.44 L394.0 102.68 L395.0 102.91 L396.0 103.14 L397.0 103.38 L398.0 103.61 L399.0 103.85 L400.0 103.92 L401.0 103.82 L402.0 103.52 L403.0 103.18 L404.0 102.81 L405.0 102.43 L406.0 102.06 L407.0 101.69 L408.0 101.32 L409.0 100.95 L410.0 100.58 L411.0 100.22 L412.0 99.86 L413.0 99.51 L414.0 99.15 L415.0 98.80 L416.0 98.47 L417.0 98.21 L418.0 98.00 L419.0 97.83 L420.0 97.66 L421.0 97.51 L422.0 97.38 L423.0 97.25 L424.0 97.12 L425.0 97.00 L426.0 96.87 L427.0 96.74 L428.0 96.62 L429.0 96.56 L430.0 96.62 L431.0 96.80 L432.0 97.03 L433.0 97.27 L434.0 97.55 L435.0 97.96 L436.0 98.50 L437.0 99.14 L438.0 99.80 L439.0 100.47 L440.0 101.13 L441.0 101.93 L442.0 102.91 L443.0 104.08 L444.0 105.29 L445.0 106.53 L446.0 107.79 L447.0 109.08 L448.0 110.39 L449.0 111.68 L450.0 112.95 L451.0 114.20 L452.0 115.45 L453.0 116.71 L454.0 117.97 L455.0 119.23 L456.0 120.49 L457.0 121.74 L458.0 122.95 L459.0 124.09 L460.0 125.20 L461.0 126.31 L462.0 127.40 L463.0 128.49 L464.0 129.57 L465.0 130.67 L466.0 131.79 L467.0 132.95 L468.0 134.14 L469.0 135.34 L470.0 136.51 L471.0 137.65 L472.0 138.77 L473.0 139.88 L474.0 141.00 L475.0 142.12 L476.0 143.23 L477.0 144.35 L478.0 145.47 L479.0 146.58 L480.0 147.69 L481.0 148.80 L482.0 149.91 L483.0 151.01 L484.0 152.12 L485.0 153.23 L486.0 154.35 L487.0 155.50 L488.0 156.68 L489.0 157.88 L490.0 159.07 L491.0 160.26 L492.0 161.45 L493.0 162.66 L494.0 163.87 L495.0 165.03 L496.0 166.14 L497.0 167.21 L498.0 168.28 L499.0 169.36 L500.0 170.45 L501.0 171.54 L502.0 172.63 L503.0 173.74 L504.0 174.87 L505.0 176.02 L506.0 177.15 L507.0 178.29 L508.0 179.43 L509.0 180.56 L510.0 181.68 L511.0 182.76 L512.0 183.79 L513.0 184.77 L514.0 185.74 L515.0 186.70 L516.0 187.66 L517.0 188.63 L518.0 189.59 L519.0 190.56 L520.0 191.55 L521.0 192.54 L522.0 193.54 L523.0 194.54 L524.0 195.55 L525.0 196.57 L526.0 197.78 L527.0 199.17 L528.0 200.73 L529.0 202.29 L530.0 203.86 L531.0 205.62 L532.0 207.57 L533.0 209.71 L534.0 211.85 L535.0 214.02 L536.0 216.37 L537.0 218.90 L538.0 221.57 L539.0 224.25 L540.0 226.89 L541.0 229.25 L542.0 231.35 L543.0 233.22 L544.0 235.09 L545.0 236.94 L546.0 238.78 L547.0 240.40 L548.0 241.64 L549.0 242.47 L550.0 243.10 L551.0 243.73 L552.0 244.34 L553.0 244.96 L554.0 245.57 L555.0 246.16 L556.0 246.71 L557.0 247.24 L558.0 247.75 L559.0 248.27 L560.0 248.76 L561.0 249.25 L562.0 249.72 L563.0 250.19 L564.0 250.60 L565.0 250.94 L566.0 251.21 L567.0 251.46 L568.0 251.68 L569.0 251.89 L570.0 251.99 L571.0 251.89 L572.0 251.58 L573.0 251.18 L574.0 250.67 L575.0 249.94 L576.0 248.99 L577.0 247.92 L578.0 246.85 L579.0 245.82 L580.0 244.95 L581.0 244.25 L582.0 243.66 L583.0 243.10 L584.0 242.88 L585.0 243.02 L586.0 243.47 L587.0 244.12 L588.0 245.17 L589.0 246.62 L590.0 248.28 L591.0 250.10 L592.0 252.12 L593.0 254.32 L594.0 256.58 L595.0 258.90 L596.0 261.23 L597.0 263.56 L598.0 265.63 L599.0 267.50 L600.0 269.12 L601.0 270.53 L602.0 271.58 L603.0 272.33 L604.0 272.92 L605.0 273.15 L606.0 273.03 L607.0 272.56 L608.0 272.09 L609.0 271.62 L610.0 271.04 L611.0 270.36 L612.0 269.58 L613.0 268.82 L614.0 268.09 L615.0 267.47 L616.0 266.95 L617.0 266.52 L618.0 266.09 L619.0 265.66 L620.0 265.26 L621.0 264.91 L622.0 264.59 L623.0 264.27 L624.0 263.96 L625.0 263.65 L626.0 263.35 L627.0 263.11 L628.0 262.92 L629.0 262.79 L630.0 262.68 L631.0 262.56 L632.0 262.45 L633.0 262.33 L634.0 262.22 L635.0 262.11 L636.0 262.02 L637.0 262.08 L638.0 262.27 L639.0 262.58 L640.0 262.89 L641.0 263.19 L642.0 263.50 L643.0 263.81 L644.0 264.16 L645.0 264.61 L646.0 265.14 L647.0 265.73 L648.0 266.32 L649.0 266.91 L650.0 267.50 L651.0 268.08 L652.0 268.62 L653.0 269.12 L654.0 269.57 L655.0 270.03 L656.0 270.49 L657.0 270.95 L658.0 271.35 L659.0 271.68 L660.0 271.87" stroke="#3a5f8e" stroke-width="2.0"/>
<path d="M248.0 266.90 L249.0 266.42 L250.0 265.70 L251.0 264.98 L252.0 264.26 L253.0 263.54 L254.0 262.82 L255.0 262.11 L256.0 261.43 L257.0 260.77 L258.0 260.12 L259.0 259.47 L260.0 258.83 L261.0 258.17 L262.0 257.52 L263.0 256.84 L264.0 256.13 L265.0 255.40 L266.0 254.66 L267.0 253.92 L268.0 253.17 L269.0 252.43 L270.0 251.69 L271.0 250.97 L272.0 250.27 L273.0 249.60 L274.0 248.92 L275.0 248.24 L276.0 247.56 L277.0 246.88 L278.0 246.18 L279.0 245.44 L280.0 244.65 L281.0 243.83 L282.0 243.01 L283.0 242.16 L284.0 241.22 L285.0 240.13 L286.0 238.93 L287.0 237.66 L288.0 236.38 L289.0 234.92 L290.0 233.19 L291.0 231.18 L292.0 229.04 L293.0 226.83 L294.0 224.55 L295.0 222.26 L296.0 219.97 L297.0 217.69 L298.0 215.39 L299.0 212.91 L300.0 210.23 L301.0 207.39 L302.0 204.54 L303.0 201.70 L304.0 199.03 L305.0 196.54 L306.0 194.23 L307.0 191.83 L308.0 189.34 L309.0 186.75 L310.0 184.25 L311.0 181.86 L312.0 179.57 L313.0 177.29 L314.0 175.01 L315.0 172.73 L316.0 170.47 L317.0 168.34 L318.0 166.36 L319.0 164.50 L320.0 162.66 L321.0 160.85 L322.0 159.19 L323.0 157.67 L324.0 156.28 L325.0 154.89 L326.0 153.50 L327.0 152.10 L328.0 150.70 L329.0 149.28 L330.0 147.86 L331.0 146.44 L332.0 145.02 L333.0 143.60 L334.0 142.19 L335.0 140.79 L336.0 139.39 L337.0 138.00 L338.0 136.61 L339.0 135.22 L340.0 133.82 L341.0 132.43 L342.0 131.04 L343.0 129.65 L344.0 128.16 L345.0 126.58 L346.0 124.91 L347.0 123.23 L348.0 121.56 L349.0 119.87 L350.0 117.99 L351.0 115.92 L352.0 113.66 L353.0 111.32 L354.0 108.60 L355.0 105.52 L356.0 102.21 L357.0 98.99 L358.0 95.96 L359.0 93.06 L360.0 90.34 L361.0 87.65 L362.0 85.51 L363.0 83.90 L364.0 82.80 L365.0 81.97 L366.0 81.39 L367.0 81.10 L368.0 81.03 L369.0 81.19 L370.0 81.54 L371.0 81.90 L372.0 82.38 L373.0 82.99 L374.0 83.72 L375.0 84.46 L376.0 85.21 L377.0 85.97 L378.0 86.72 L379.0 87.48 L380.0 88.16 L381.0 88.76 L382.0 89.28 L383.0 89.81 L384.0 90.33 L385.0 90.85 L386.0 91.38 L387.0 91.90 L388.0 92.43 L389.0 92.95 L390.0 93.39 L391.0 93.74 L392.0 94.00 L393.0 94.26 L394.0 94.51 L395.0 94.76 L396.0 95.01 L397.0 95.26 L398.0 95.52 L399.0 95.77 L400.0 95.85 L401.0 95.75 L402.0 95.45 L403.0 95.11 L404.0 94.76 L405.0 94.40 L406.0 94.05 L407.0 93.69 L408.0 93.34 L409.0 92.99 L410.0 92.64 L411.0 92.29 L412.0 91.95 L413.0 91.61 L414.0 91.27 L415.0 90.93 L416.0 90.62 L417.0 90.38 L418.0 90.20 L419.0 90.05 L420.0 89.91 L421.0 89.78 L422.0 89.66 L423.0 89.55 L424.0 89.44 L425.0 89.33 L426.0 89.22 L427.0 89.11 L428.0 89.00 L429.0 88.95 L430.0 89.02 L431.0 89.21 L432.0 89.45 L433.0 89.70 L434.0 89.99 L435.0 90.43 L436.0 91.00 L437.0 91.67 L438.0 92.36 L439.0 93.05 L440.0 93.74 L441.0 94.58 L442.0 95.62 L443.0 96.86 L444.0 98.15 L445.0 99.45 L446.0 100.78 L447.0 102.13 L448.0 103.48 L449.0 104.82 L450.0 106.14 L451.0 107.44 L452.0 108.74 L453.0 110.04 L454.0 111.33 L455.0 112.63 L456.0 113.94 L457.0 115.23 L458.0 116.46 L459.0 117.63 L460.0 118.76 L461.0 119.89 L462.0 121.01 L463.0 122.13 L464.0 123.24 L465.0 124.36 L466.0 125.52 L467.0 126.71 L468.0 127.93 L469.0 129.16 L470.0 130.36 L471.0 131.52 L472.0 132.66 L473.0 133.80 L474.0 134.94 L475.0 136.08 L476.0 137.22 L477.0 138.37 L478.0 139.50 L479.0 140.64 L480.0 141.77 L481.0 142.90 L482.0 144.03 L483.0 145.16 L484.0 146.29 L485.0 147.43 L486.0 148.57 L487.0 149.75 L488.0 150.96 L489.0 152.18 L490.0 153.40 L491.0 154.62 L492.0 155.84 L493.0 157.08 L494.0 158.31 L495.0 159.48 L496.0 160.60 L497.0 161.67 L498.0 162.74 L499.0 163.82 L500.0 164.91 L501.0 166.00 L502.0 167.09 L503.0 168.21 L504.0 169.35 L505.0 170.51 L506.0 171.66 L507.0 172.82 L508.0 173.97 L509.0 175.12 L510.0 176.27 L511.0 177.37 L512.0 178.41 L513.0 179.40 L514.0 180.38 L515.0 181.36 L516.0 182.34 L517.0 183.31 L518.0 184.29 L519.0 185.27 L520.0 186.26 L521.0 187.26 L522.0 188.26 L523.0 189.26 L524.0 190.26 L525.0 191.28 L526.0 192.49 L527.0 193.89 L528.0 195.47 L529.0 197.05 L530.0 198.64 L531.0 200.43 L532.0 202.42 L533.0 204.62 L534.0 206.81 L535.0 209.03 L536.0 211.44 L537.0 214.04 L538.0 216.80 L539.0 219.55 L540.0 222.27 L541.0 224.71 L542.0 226.86 L543.0 228.76 L544.0 230.66 L545.0 232.55 L546.0 234.43 L547.0 236.09 L548.0 237.33 L549.0 238.13 L550.0 238.73 L551.0 239.33 L552.0 239.93 L553.0 240.54 L554.0 241.14 L555.0 241.72 L556.0 242.28 L557.0 242.81 L558.0 243.33 L559.0 243.85 L560.0 244.36 L561.0 244.86 L562.0 245.35 L563.0 245.84 L564.0 246.27 L565.0 246.62 L566.0 246.90 L567.0 247.15 L568.0 247.39 L569.0 247.61 L570.0 247.73 L571.0 247.63 L572.0 247.30 L573.0 246.87 L574.0 246.35 L575.0 245.61 L576.0 244.64 L577.0 243.54 L578.0 242.45 L579.0 241.40 L580.0 240.51 L581.0 239.78 L582.0 239.15 L583.0 238.56 L584.0 238.32 L585.0 238.44 L586.0 238.87 L587.0 239.53 L588.0 240.59 L589.0 242.07 L590.0 243.74 L591.0 245.60 L592.0 247.66 L593.0 249.90 L594.0 252.20 L595.0 254.56 L596.0 256.95 L597.0 259.35 L598.0 261.49 L599.0 263.42 L600.0 265.10 L601.0 266.57 L602.0 267.67 L603.0 268.44 L604.0 269.05 L605.0 269.29 L606.0 269.18 L607.0 268.72 L608.0 268.25 L609.0 267.78 L610.0 267.20 L611.0 266.50 L612.0 265.69 L613.0 264.90 L614.0 264.14 L615.0 263.49 L616.0 262.94 L617.0 262.50 L618.0 262.05 L619.0 261.61 L620.0 261.20 L621.0 260.83 L622.0 260.51 L623.0 260.18 L624.0 259.86 L625.0 259.54 L626.0 259.23 L627.0 258.97 L628.0 258.78 L629.0 258.65 L630.0 258.53 L631.0 258.42 L632.0 258.30 L633.0 258.18 L634.0 258.07 L635.0 257.95 L636.0 257.86 L637.0 257.91 L638.0 258.09 L639.0 258.40 L640.0 258.71 L641.0 259.02 L642.0 259.33 L643.0 259.65 L644.0 260.01 L645.0 260.46 L646.0 261.02 L647.0 261.63 L648.0 262.24 L649.0 262.86 L650.0 263.47 L651.0 264.07 L652.0 264.63 L653.0 265.15 L654.0 265.62 L655.0 266.09 L656.0 266.56 L657.0 267.03 L658.0 267.44 L659.0 267.79 L660.0 267.98" stroke="#3a8c98" stroke-width="2.0"/>
<path d="M248.0 263.02 L249.0 262.52 L250.0 261.78 L251.0 261.03 L252.0 260.29 L253.0 259.54 L254.0 258.80 L255.0 258.06 L256.0 257.35 L257.0 256.67 L258.0 256.00 L259.0 255.34 L260.0 254.67 L261.0 254.00 L262.0 253.33 L263.0 252.63 L264.0 251.91 L265.0 251.15 L266.0 250.39 L267.0 249.62 L268.0 248.86 L269.0 248.09 L270.0 247.33 L271.0 246.60 L272.0 245.89 L273.0 245.20 L274.0 244.51 L275.0 243.83 L276.0 243.14 L277.0 242.45 L278.0 241.75 L279.0 240.99 L280.0 240.18 L281.0 239.34 L282.0 238.51 L283.0 237.65 L284.0 236.72 L285.0 235.64 L286.0 234.43 L287.0 233.14 L288.0 231.85 L289.0 230.35 L290.0 228.57 L291.0 226.49 L292.0 224.27 L293.0 221.99 L294.0 219.64 L295.0 217.28 L296.0 214.93 L297.0 212.58 L298.0 210.22 L299.0 207.65 L300.0 204.89 L301.0 201.93 L302.0 198.98 L303.0 196.03 L304.0 193.27 L305.0 190.70 L306.0 188.32 L307.0 185.85 L308.0 183.28 L309.0 180.60 L310.0 178.01 L311.0 175.55 L312.0 173.20 L313.0 170.85 L314.0 168.51 L315.0 166.16 L316.0 163.83 L317.0 161.65 L318.0 159.62 L319.0 157.72 L320.0 155.84 L321.0 153.97 L322.0 152.26 L323.0 150.69 L324.0 149.26 L325.0 147.83 L326.0 146.40 L327.0 144.96 L328.0 143.52 L329.0 142.08 L330.0 140.63 L331.0 139.18 L332.0 137.73 L333.0 136.28 L334.0 134.84 L335.0 133.40 L336.0 131.96 L337.0 130.53 L338.0 129.10 L339.0 127.67 L340.0 126.24 L341.0 124.81 L342.0 123.38 L343.0 121.95 L344.0 120.41 L345.0 118.78 L346.0 117.05 L347.0 115.32 L348.0 113.58 L349.0 111.85 L350.0 109.90 L351.0 107.76 L352.0 105.41 L353.0 103.01 L354.0 100.24 L355.0 97.13 L356.0 93.76 L357.0 90.44 L358.0 87.29 L359.0 84.30 L360.0 81.47 L361.0 78.67 L362.0 76.44 L363.0 74.77 L364.0 73.65 L365.0 72.80 L366.0 72.24 L367.0 71.97 L368.0 71.92 L369.0 72.09 L370.0 72.48 L371.0 72.86 L372.0 73.37 L373.0 74.02 L374.0 74.81 L375.0 75.60 L376.0 76.39 L377.0 77.19 L378.0 77.99 L379.0 78.79 L380.0 79.51 L381.0 80.14 L382.0 80.69 L383.0 81.25 L384.0 81.80 L385.0 82.35 L386.0 82.90 L387.0 83.45 L388.0 84.00 L389.0 84.56 L390.0 85.02 L391.0 85.39 L392.0 85.66 L393.0 85.93 L394.0 86.20 L395.0 86.47 L396.0 86.74 L397.0 87.01 L398.0 87.28 L399.0 87.55 L400.0 87.64 L401.0 87.54 L402.0 87.23 L403.0 86.91 L404.0 86.57 L405.0 86.24 L406.0 85.90 L407.0 85.56 L408.0 85.23 L409.0 84.89 L410.0 84.56 L411.0 84.23 L412.0 83.90 L413.0 83.58 L414.0 83.25 L415.0 82.93 L416.0 82.63 L417.0 82.41 L418.0 82.26 L419.0 82.14 L420.0 82.03 L421.0 81.92 L422.0 81.82 L423.0 81.72 L424.0 81.63 L425.0 81.53 L426.0 81.44 L427.0 81.34 L428.0 81.24 L429.0 81.21 L430.0 81.28 L431.0 81.48 L432.0 81.74 L433.0 82.00 L434.0 82.31 L435.0 82.77 L436.0 83.37 L437.0 84.08 L438.0 84.79 L439.0 85.51 L440.0 86.22 L441.0 87.10 L442.0 88.20 L443.0 89.52 L444.0 90.88 L445.0 92.26 L446.0 93.65 L447.0 95.05 L448.0 96.46 L449.0 97.85 L450.0 99.22 L451.0 100.57 L452.0 101.91 L453.0 103.25 L454.0 104.59 L455.0 105.93 L456.0 107.27 L457.0 108.60 L458.0 109.86 L459.0 111.05 L460.0 112.21 L461.0 113.36 L462.0 114.51 L463.0 115.65 L464.0 116.80 L465.0 117.95 L466.0 119.13 L467.0 120.36 L468.0 121.61 L469.0 122.87 L470.0 124.10 L471.0 125.29 L472.0 126.45 L473.0 127.62 L474.0 128.78 L475.0 129.95 L476.0 131.11 L477.0 132.28 L478.0 133.44 L479.0 134.60 L480.0 135.75 L481.0 136.91 L482.0 138.06 L483.0 139.21 L484.0 140.37 L485.0 141.52 L486.0 142.69 L487.0 143.89 L488.0 145.13 L489.0 146.38 L490.0 147.63 L491.0 148.89 L492.0 150.14 L493.0 151.40 L494.0 152.65 L495.0 153.83 L496.0 154.96 L497.0 156.03 L498.0 157.11 L499.0 158.19 L500.0 159.28 L501.0 160.37 L502.0 161.45 L503.0 162.57 L504.0 163.72 L505.0 164.90 L506.0 166.08 L507.0 167.25 L508.0 168.42 L509.0 169.59 L510.0 170.76 L511.0 171.88 L512.0 172.94 L513.0 173.95 L514.0 174.94 L515.0 175.93 L516.0 176.92 L517.0 177.91 L518.0 178.90 L519.0 179.89 L520.0 180.88 L521.0 181.88 L522.0 182.88 L523.0 183.88 L524.0 184.89 L525.0 185.90 L526.0 187.11 L527.0 188.52 L528.0 190.12 L529.0 191.72 L530.0 193.33 L531.0 195.15 L532.0 197.19 L533.0 199.44 L534.0 201.69 L535.0 203.96 L536.0 206.43 L537.0 209.10 L538.0 211.94 L539.0 214.78 L540.0 217.58 L541.0 220.08 L542.0 222.28 L543.0 224.22 L544.0 226.16 L545.0 228.09 L546.0 230.01 L547.0 231.71 L548.0 232.94 L549.0 233.72 L550.0 234.29 L551.0 234.86 L552.0 235.45 L553.0 236.04 L554.0 236.63 L555.0 237.20 L556.0 237.76 L557.0 238.30 L558.0 238.84 L559.0 239.37 L560.0 239.89 L561.0 240.40 L562.0 240.91 L563.0 241.42 L564.0 241.86 L565.0 242.22 L566.0 242.50 L567.0 242.77 L568.0 243.02 L569.0 243.27 L570.0 243.40 L571.0 243.29 L572.0 242.95 L573.0 242.49 L574.0 241.96 L575.0 241.20 L576.0 240.21 L577.0 239.09 L578.0 237.97 L579.0 236.90 L580.0 235.99 L581.0 235.23 L582.0 234.57 L583.0 233.94 L584.0 233.68 L585.0 233.78 L586.0 234.20 L587.0 234.86 L588.0 235.94 L589.0 237.43 L590.0 239.13 L591.0 241.02 L592.0 243.12 L593.0 245.41 L594.0 247.74 L595.0 250.15 L596.0 252.60 L597.0 255.07 L598.0 257.29 L599.0 259.27 L600.0 261.00 L601.0 262.53 L602.0 263.69 L603.0 264.49 L604.0 265.11 L605.0 265.37 L606.0 265.27 L607.0 264.81 L608.0 264.34 L609.0 263.88 L610.0 263.29 L611.0 262.57 L612.0 261.74 L613.0 260.92 L614.0 260.12 L615.0 259.44 L616.0 258.87 L617.0 258.41 L618.0 257.95 L619.0 257.48 L620.0 257.07 L621.0 256.69 L622.0 256.35 L623.0 256.02 L624.0 255.69 L625.0 255.36 L626.0 255.04 L627.0 254.77 L628.0 254.57 L629.0 254.44 L630.0 254.32 L631.0 254.20 L632.0 254.08 L633.0 253.96 L634.0 253.84 L635.0 253.72 L636.0 253.62 L637.0 253.66 L638.0 253.84 L639.0 254.16 L640.0 254.47 L641.0 254.78 L642.0 255.10 L643.0 255.41 L644.0 255.78 L645.0 256.25 L646.0 256.83 L647.0 257.47 L648.0 258.10 L649.0 258.73 L650.0 259.37 L651.0 260.00 L652.0 260.58 L653.0 261.11 L654.0 261.59 L655.0 262.08 L656.0 262.56 L657.0 263.05 L658.0 263.47 L659.0 263.82 L660.0 264.01" stroke="#9c6428" stroke-width="2.0"/>
<path d="M248.0 259.66 L249.0 259.15 L250.0 258.38 L251.0 257.61 L252.0 256.85 L253.0 256.08 L254.0 255.31 L255.0 254.56 L256.0 253.83 L257.0 253.13 L258.0 252.45 L259.0 251.76 L260.0 251.08 L261.0 250.39 L262.0 249.70 L263.0 248.99 L264.0 248.25 L265.0 247.48 L266.0 246.70 L267.0 245.91 L268.0 245.13 L269.0 244.35 L270.0 243.57 L271.0 242.82 L272.0 242.09 L273.0 241.40 L274.0 240.71 L275.0 240.01 L276.0 239.32 L277.0 238.62 L278.0 237.91 L279.0 237.14 L280.0 236.32 L281.0 235.47 L282.0 234.61 L283.0 233.75 L284.0 232.83 L285.0 231.75 L286.0 230.54 L287.0 229.23 L288.0 227.92 L289.0 226.40 L290.0 224.57 L291.0 222.43 L292.0 220.15 L293.0 217.81 L294.0 215.40 L295.0 212.98 L296.0 210.57 L297.0 208.17 L298.0 205.75 L299.0 203.11 L300.0 200.26 L301.0 197.22 L302.0 194.18 L303.0 191.13 L304.0 188.29 L305.0 185.65 L306.0 183.21 L307.0 180.68 L308.0 178.04 L309.0 175.28 L310.0 172.63 L311.0 170.10 L312.0 167.69 L313.0 165.29 L314.0 162.88 L315.0 160.48 L316.0 158.09 L317.0 155.86 L318.0 153.79 L319.0 151.86 L320.0 149.94 L321.0 148.02 L322.0 146.27 L323.0 144.65 L324.0 143.19 L325.0 141.72 L326.0 140.26 L327.0 138.79 L328.0 137.32 L329.0 135.85 L330.0 134.38 L331.0 132.90 L332.0 131.43 L333.0 129.95 L334.0 128.48 L335.0 127.01 L336.0 125.55 L337.0 124.08 L338.0 122.61 L339.0 121.15 L340.0 119.68 L341.0 118.22 L342.0 116.75 L343.0 115.29 L344.0 113.72 L345.0 112.04 L346.0 110.26 L347.0 108.48 L348.0 106.69 L349.0 104.91 L350.0 102.91 L351.0 100.70 L352.0 98.27 L353.0 95.83 L354.0 93.03 L355.0 89.89 L356.0 86.45 L357.0 83.04 L358.0 79.80 L359.0 76.72 L360.0 73.81 L361.0 70.91 L362.0 68.60 L363.0 66.88 L364.0 65.74 L365.0 64.89 L366.0 64.33 L367.0 64.08 L368.0 64.05 L369.0 64.24 L370.0 64.64 L371.0 65.04 L372.0 65.59 L373.0 66.28 L374.0 67.10 L375.0 67.94 L376.0 68.77 L377.0 69.61 L378.0 70.44 L379.0 71.28 L380.0 72.03 L381.0 72.69 L382.0 73.27 L383.0 73.85 L384.0 74.42 L385.0 75.00 L386.0 75.57 L387.0 76.15 L388.0 76.72 L389.0 77.30 L390.0 77.78 L391.0 78.16 L392.0 78.45 L393.0 78.74 L394.0 79.02 L395.0 79.31 L396.0 79.59 L397.0 79.87 L398.0 80.16 L399.0 80.44 L400.0 80.54 L401.0 80.43 L402.0 80.13 L403.0 79.82 L404.0 79.50 L405.0 79.17 L406.0 78.85 L407.0 78.53 L408.0 78.21 L409.0 77.89 L410.0 77.58 L411.0 77.26 L412.0 76.95 L413.0 76.63 L414.0 76.32 L415.0 76.01 L416.0 75.73 L417.0 75.53 L418.0 75.39 L419.0 75.30 L420.0 75.21 L421.0 75.12 L422.0 75.04 L423.0 74.95 L424.0 74.87 L425.0 74.79 L426.0 74.71 L427.0 74.62 L428.0 74.54 L429.0 74.51 L430.0 74.60 L431.0 74.80 L432.0 75.07 L433.0 75.34 L434.0 75.67 L435.0 76.15 L436.0 76.78 L437.0 77.51 L438.0 78.25 L439.0 78.98 L440.0 79.72 L441.0 80.64 L442.0 81.79 L443.0 83.17 L444.0 84.60 L445.0 86.04 L446.0 87.48 L447.0 88.94 L448.0 90.39 L449.0 91.83 L450.0 93.24 L451.0 94.62 L452.0 96.00 L453.0 97.38 L454.0 98.75 L455.0 100.13 L456.0 101.51 L457.0 102.87 L458.0 104.15 L459.0 105.37 L460.0 106.54 L461.0 107.72 L462.0 108.89 L463.0 110.06 L464.0 111.23 L465.0 112.40 L466.0 113.62 L467.0 114.87 L468.0 116.15 L469.0 117.43 L470.0 118.68 L471.0 119.90 L472.0 121.09 L473.0 122.27 L474.0 123.46 L475.0 124.64 L476.0 125.83 L477.0 127.02 L478.0 128.20 L479.0 129.38 L480.0 130.55 L481.0 131.72 L482.0 132.90 L483.0 134.07 L484.0 135.24 L485.0 136.42 L486.0 137.61 L487.0 138.83 L488.0 140.09 L489.0 141.37 L490.0 142.65 L491.0 143.93 L492.0 145.21 L493.0 146.49 L494.0 147.75 L495.0 148.95 L496.0 150.08 L497.0 151.16 L498.0 152.24 L499.0 153.33 L500.0 154.41 L501.0 155.50 L502.0 156.58 L503.0 157.71 L504.0 158.86 L505.0 160.06 L506.0 161.25 L507.0 162.44 L508.0 163.63 L509.0 164.82 L510.0 166.00 L511.0 167.14 L512.0 168.22 L513.0 169.23 L514.0 170.23 L515.0 171.23 L516.0 172.23 L517.0 173.24 L518.0 174.24 L519.0 175.24 L520.0 176.24 L521.0 177.24 L522.0 178.24 L523.0 179.24 L524.0 180.24 L525.0 181.24 L526.0 182.46 L527.0 183.88 L528.0 185.50 L529.0 187.12 L530.0 188.74 L531.0 190.59 L532.0 192.66 L533.0 194.96 L534.0 197.26 L535.0 199.58 L536.0 202.10 L537.0 204.83 L538.0 207.74 L539.0 210.65 L540.0 213.52 L541.0 216.08 L542.0 218.33 L543.0 220.30 L544.0 222.27 L545.0 224.23 L546.0 226.19 L547.0 227.91 L548.0 229.15 L549.0 229.91 L550.0 230.45 L551.0 231.00 L552.0 231.58 L553.0 232.15 L554.0 232.73 L555.0 233.30 L556.0 233.86 L557.0 234.41 L558.0 234.95 L559.0 235.49 L560.0 236.02 L561.0 236.55 L562.0 237.07 L563.0 237.60 L564.0 238.05 L565.0 238.42 L566.0 238.71 L567.0 238.98 L568.0 239.25 L569.0 239.51 L570.0 239.65 L571.0 239.54 L572.0 239.19 L573.0 238.71 L574.0 238.16 L575.0 237.38 L576.0 236.39 L577.0 235.25 L578.0 234.10 L579.0 233.02 L580.0 232.08 L581.0 231.30 L582.0 230.61 L583.0 229.95 L584.0 229.67 L585.0 229.75 L586.0 230.16 L587.0 230.82 L588.0 231.91 L589.0 233.43 L590.0 235.14 L591.0 237.07 L592.0 239.20 L593.0 241.52 L594.0 243.89 L595.0 246.33 L596.0 248.84 L597.0 251.37 L598.0 253.65 L599.0 255.69 L600.0 257.47 L601.0 259.05 L602.0 260.24 L603.0 261.07 L604.0 261.71 L605.0 261.98 L606.0 261.89 L607.0 261.43 L608.0 260.96 L609.0 260.50 L610.0 259.91 L611.0 259.18 L612.0 258.33 L613.0 257.48 L614.0 256.65 L615.0 255.94 L616.0 255.35 L617.0 254.87 L618.0 254.40 L619.0 253.92 L620.0 253.49 L621.0 253.11 L622.0 252.77 L623.0 252.42 L624.0 252.09 L625.0 251.75 L626.0 251.41 L627.0 251.14 L628.0 250.93 L629.0 250.79 L630.0 250.67 L631.0 250.55 L632.0 250.43 L633.0 250.31 L634.0 250.19 L635.0 250.07 L636.0 249.96 L637.0 249.99 L638.0 250.17 L639.0 250.48 L640.0 250.80 L641.0 251.12 L642.0 251.43 L643.0 251.75 L644.0 252.12 L645.0 252.61 L646.0 253.21 L647.0 253.86 L648.0 254.52 L649.0 255.17 L650.0 255.83 L651.0 256.48 L652.0 257.07 L653.0 257.62 L654.0 258.11 L655.0 258.61 L656.0 259.11 L657.0 259.60 L658.0 260.03 L659.0 260.39 L660.0 260.59" stroke="#006800" stroke-width="2.0"/>
<path d="M248.0 257.42 L249.0 256.90 L250.0 256.12 L251.0 255.34 L252.0 254.56 L253.0 253.77 L254.0 252.99 L255.0 252.22 L256.0 251.48 L257.0 250.77 L258.0 250.07 L259.0 249.38 L260.0 248.68 L261.0 247.99 L262.0 247.29 L263.0 246.57 L264.0 245.82 L265.0 245.03 L266.0 244.24 L267.0 243.44 L268.0 242.64 L269.0 241.85 L270.0 241.06 L271.0 240.29 L272.0 239.57 L273.0 238.87 L274.0 238.17 L275.0 237.47 L276.0 236.77 L277.0 236.07 L278.0 235.35 L279.0 234.58 L280.0 233.75 L281.0 232.88 L282.0 232.02 L283.0 231.15 L284.0 230.24 L285.0 229.17 L286.0 227.95 L287.0 226.63 L288.0 225.31 L289.0 223.77 L290.0 221.90 L291.0 219.72 L292.0 217.40 L293.0 215.02 L294.0 212.57 L295.0 210.12 L296.0 207.67 L297.0 205.23 L298.0 202.77 L299.0 200.09 L300.0 197.18 L301.0 194.08 L302.0 190.97 L303.0 187.87 L304.0 184.97 L305.0 182.28 L306.0 179.80 L307.0 177.23 L308.0 174.54 L309.0 171.73 L310.0 169.03 L311.0 166.46 L312.0 164.02 L313.0 161.57 L314.0 159.13 L315.0 156.69 L316.0 154.26 L317.0 152.00 L318.0 149.90 L319.0 147.95 L320.0 146.00 L321.0 144.06 L322.0 142.27 L323.0 140.63 L324.0 139.14 L325.0 137.65 L326.0 136.17 L327.0 134.68 L328.0 133.19 L329.0 131.70 L330.0 130.21 L331.0 128.72 L332.0 127.22 L333.0 125.73 L334.0 124.24 L335.0 122.75 L336.0 121.27 L337.0 119.78 L338.0 118.29 L339.0 116.80 L340.0 115.31 L341.0 113.83 L342.0 112.34 L343.0 110.85 L344.0 109.25 L345.0 107.55 L346.0 105.73 L347.0 103.91 L348.0 102.10 L349.0 100.28 L350.0 98.25 L351.0 95.99 L352.0 93.52 L353.0 91.04 L354.0 88.21 L355.0 85.06 L356.0 81.58 L357.0 78.11 L358.0 74.81 L359.0 71.67 L360.0 68.70 L361.0 65.74 L362.0 63.38 L363.0 61.62 L364.0 60.46 L365.0 59.61 L366.0 59.06 L367.0 58.82 L368.0 58.80 L369.0 59.00 L370.0 59.42 L371.0 59.83 L372.0 60.40 L373.0 61.11 L374.0 61.97 L375.0 62.83 L376.0 63.69 L377.0 64.55 L378.0 65.41 L379.0 66.28 L380.0 67.05 L381.0 67.73 L382.0 68.32 L383.0 68.91 L384.0 69.50 L385.0 70.09 L386.0 70.69 L387.0 71.28 L388.0 71.87 L389.0 72.46 L390.0 72.95 L391.0 73.35 L392.0 73.64 L393.0 73.94 L394.0 74.23 L395.0 74.53 L396.0 74.82 L397.0 75.12 L398.0 75.41 L399.0 75.71 L400.0 75.80 L401.0 75.70 L402.0 75.40 L403.0 75.09 L404.0 74.78 L405.0 74.47 L406.0 74.16 L407.0 73.85 L408.0 73.54 L409.0 73.23 L410.0 72.92 L411.0 72.62 L412.0 72.31 L413.0 72.01 L414.0 71.70 L415.0 71.39 L416.0 71.13 L417.0 70.93 L418.0 70.82 L419.0 70.74 L420.0 70.67 L421.0 70.59 L422.0 70.52 L423.0 70.44 L424.0 70.37 L425.0 70.30 L426.0 70.22 L427.0 70.15 L428.0 70.08 L429.0 70.05 L430.0 70.14 L431.0 70.35 L432.0 70.63 L433.0 70.90 L434.0 71.24 L435.0 71.73 L436.0 72.39 L437.0 73.14 L438.0 73.88 L439.0 74.64 L440.0 75.38 L441.0 76.33 L442.0 77.51 L443.0 78.94 L444.0 80.42 L445.0 81.89 L446.0 83.38 L447.0 84.86 L448.0 86.34 L449.0 87.81 L450.0 89.25 L451.0 90.66 L452.0 92.06 L453.0 93.46 L454.0 94.87 L455.0 96.27 L456.0 97.67 L457.0 99.04 L458.0 100.35 L459.0 101.58 L460.0 102.77 L461.0 103.96 L462.0 105.14 L463.0 106.33 L464.0 107.51 L465.0 108.71 L466.0 109.94 L467.0 111.21 L468.0 112.51 L469.0 113.81 L470.0 115.08 L471.0 116.31 L472.0 117.51 L473.0 118.71 L474.0 119.91 L475.0 121.11 L476.0 122.31 L477.0 123.51 L478.0 124.70 L479.0 125.90 L480.0 127.08 L481.0 128.27 L482.0 129.45 L483.0 130.64 L484.0 131.83 L485.0 133.01 L486.0 134.22 L487.0 135.46 L488.0 136.73 L489.0 138.03 L490.0 139.33 L491.0 140.62 L492.0 141.92 L493.0 143.21 L494.0 144.49 L495.0 145.70 L496.0 146.83 L497.0 147.91 L498.0 149.00 L499.0 150.08 L500.0 151.17 L501.0 152.25 L502.0 153.33 L503.0 154.46 L504.0 155.62 L505.0 156.82 L506.0 158.03 L507.0 159.23 L508.0 160.43 L509.0 161.63 L510.0 162.83 L511.0 163.98 L512.0 165.07 L513.0 166.09 L514.0 167.10 L515.0 168.10 L516.0 169.11 L517.0 170.12 L518.0 171.13 L519.0 172.13 L520.0 173.14 L521.0 174.14 L522.0 175.14 L523.0 176.14 L524.0 177.14 L525.0 178.14 L526.0 179.36 L527.0 180.78 L528.0 182.41 L529.0 184.05 L530.0 185.68 L531.0 187.55 L532.0 189.64 L533.0 191.97 L534.0 194.30 L535.0 196.66 L536.0 199.22 L537.0 201.98 L538.0 204.94 L539.0 207.90 L540.0 210.82 L541.0 213.42 L542.0 215.69 L543.0 217.68 L544.0 219.67 L545.0 221.66 L546.0 223.65 L547.0 225.39 L548.0 226.62 L549.0 227.37 L550.0 227.88 L551.0 228.43 L552.0 228.99 L553.0 229.56 L554.0 230.13 L555.0 230.69 L556.0 231.26 L557.0 231.81 L558.0 232.36 L559.0 232.90 L560.0 233.44 L561.0 233.98 L562.0 234.51 L563.0 235.05 L564.0 235.51 L565.0 235.89 L566.0 236.17 L567.0 236.45 L568.0 236.73 L569.0 237.00 L570.0 237.15 L571.0 237.04 L572.0 236.68 L573.0 236.19 L574.0 235.62 L575.0 234.84 L576.0 233.84 L577.0 232.68 L578.0 231.53 L579.0 230.43 L580.0 229.48 L581.0 228.68 L582.0 227.97 L583.0 227.29 L584.0 226.99 L585.0 227.06 L586.0 227.47 L587.0 228.13 L588.0 229.22 L589.0 230.76 L590.0 232.49 L591.0 234.43 L592.0 236.58 L593.0 238.93 L594.0 241.32 L595.0 243.79 L596.0 246.33 L597.0 248.91 L598.0 251.23 L599.0 253.29 L600.0 255.11 L601.0 256.72 L602.0 257.95 L603.0 258.79 L604.0 259.44 L605.0 259.72 L606.0 259.63 L607.0 259.17 L608.0 258.71 L609.0 258.25 L610.0 257.65 L611.0 256.92 L612.0 256.05 L613.0 255.18 L614.0 254.33 L615.0 253.60 L616.0 253.00 L617.0 252.52 L618.0 252.03 L619.0 251.55 L620.0 251.11 L621.0 250.72 L622.0 250.37 L623.0 250.03 L624.0 249.68 L625.0 249.34 L626.0 249.00 L627.0 248.71 L628.0 248.50 L629.0 248.37 L630.0 248.24 L631.0 248.12 L632.0 248.00 L633.0 247.88 L634.0 247.76 L635.0 247.63 L636.0 247.52 L637.0 247.54 L638.0 247.72 L639.0 248.04 L640.0 248.35 L641.0 248.67 L642.0 248.99 L643.0 249.31 L644.0 249.69 L645.0 250.18 L646.0 250.79 L647.0 251.46 L648.0 252.13 L649.0 252.80 L650.0 253.47 L651.0 254.13 L652.0 254.74 L653.0 255.29 L654.0 255.80 L655.0 256.30 L656.0 256.80 L657.0 257.31 L658.0 257.74 L659.0 258.11 L660.0 258.31" stroke="#22e8f0" stroke-width="2.0"/>
<path d="M248.0 256.24 L249.0 255.71 L250.0 254.92 L251.0 254.13 L252.0 253.34 L253.0 252.55 L254.0 251.76 L255.0 250.99 L256.0 250.24 L257.0 249.52 L258.0 248.82 L259.0 248.12 L260.0 247.41 L261.0 246.71 L262.0 246.01 L263.0 245.29 L264.0 244.53 L265.0 243.74 L266.0 242.93 L267.0 242.13 L268.0 241.33 L269.0 240.52 L270.0 239.73 L271.0 238.96 L272.0 238.23 L273.0 237.53 L274.0 236.83 L275.0 236.12 L276.0 235.42 L277.0 234.72 L278.0 234.00 L279.0 233.22 L280.0 232.38 L281.0 231.51 L282.0 230.65 L283.0 229.78 L284.0 228.86 L285.0 227.80 L286.0 226.58 L287.0 225.25 L288.0 223.92 L289.0 222.37 L290.0 220.49 L291.0 218.29 L292.0 215.95 L293.0 213.54 L294.0 211.08 L295.0 208.60 L296.0 206.13 L297.0 203.67 L298.0 201.19 L299.0 198.48 L300.0 195.55 L301.0 192.41 L302.0 189.27 L303.0 186.14 L304.0 183.21 L305.0 180.50 L306.0 178.00 L307.0 175.40 L308.0 172.69 L309.0 169.86 L310.0 167.13 L311.0 164.54 L312.0 162.07 L313.0 159.61 L314.0 157.14 L315.0 154.68 L316.0 152.23 L317.0 149.95 L318.0 147.84 L319.0 145.88 L320.0 143.92 L321.0 141.96 L322.0 140.15 L323.0 138.50 L324.0 137.00 L325.0 135.50 L326.0 134.00 L327.0 132.50 L328.0 131.00 L329.0 129.50 L330.0 128.00 L331.0 126.50 L332.0 125.00 L333.0 123.50 L334.0 122.00 L335.0 120.50 L336.0 119.00 L337.0 117.50 L338.0 116.00 L339.0 114.50 L340.0 113.00 L341.0 111.50 L342.0 110.00 L343.0 108.50 L344.0 106.89 L345.0 105.17 L346.0 103.33 L347.0 101.50 L348.0 99.67 L349.0 97.83 L350.0 95.78 L351.0 93.50 L352.0 91.00 L353.0 88.50 L354.0 85.67 L355.0 82.50 L356.0 79.00 L357.0 75.50 L358.0 72.17 L359.0 69.00 L360.0 66.00 L361.0 63.00 L362.0 60.61 L363.0 58.83 L364.0 57.67 L365.0 56.81 L366.0 56.27 L367.0 56.03 L368.0 56.02 L369.0 56.22 L370.0 56.65 L371.0 57.07 L372.0 57.65 L373.0 58.38 L374.0 59.25 L375.0 60.12 L376.0 61.00 L377.0 61.88 L378.0 62.75 L379.0 63.62 L380.0 64.41 L381.0 65.10 L382.0 65.70 L383.0 66.30 L384.0 66.90 L385.0 67.50 L386.0 68.10 L387.0 68.70 L388.0 69.30 L389.0 69.90 L390.0 70.40 L391.0 70.80 L392.0 71.10 L393.0 71.40 L394.0 71.70 L395.0 72.00 L396.0 72.30 L397.0 72.60 L398.0 72.90 L399.0 73.20 L400.0 73.30 L401.0 73.20 L402.0 72.89 L403.0 72.59 L404.0 72.28 L405.0 71.98 L406.0 71.67 L407.0 71.37 L408.0 71.06 L409.0 70.76 L410.0 70.46 L411.0 70.16 L412.0 69.86 L413.0 69.55 L414.0 69.25 L415.0 68.95 L416.0 68.69 L417.0 68.50 L418.0 68.40 L419.0 68.33 L420.0 68.26 L421.0 68.19 L422.0 68.12 L423.0 68.05 L424.0 67.98 L425.0 67.92 L426.0 67.85 L427.0 67.78 L428.0 67.71 L429.0 67.69 L430.0 67.78 L431.0 67.99 L432.0 68.27 L433.0 68.55 L434.0 68.90 L435.0 69.40 L436.0 70.06 L437.0 70.82 L438.0 71.58 L439.0 72.33 L440.0 73.09 L441.0 74.05 L442.0 75.25 L443.0 76.70 L444.0 78.20 L445.0 79.70 L446.0 81.20 L447.0 82.70 L448.0 84.20 L449.0 85.68 L450.0 87.14 L451.0 88.56 L452.0 89.98 L453.0 91.39 L454.0 92.81 L455.0 94.22 L456.0 95.64 L457.0 97.02 L458.0 98.33 L459.0 99.57 L460.0 100.77 L461.0 101.96 L462.0 103.16 L463.0 104.35 L464.0 105.55 L465.0 106.75 L466.0 107.99 L467.0 109.27 L468.0 110.58 L469.0 111.89 L470.0 113.17 L471.0 114.41 L472.0 115.61 L473.0 116.82 L474.0 118.03 L475.0 119.24 L476.0 120.44 L477.0 121.65 L478.0 122.85 L479.0 124.05 L480.0 125.25 L481.0 126.44 L482.0 127.63 L483.0 128.83 L484.0 130.02 L485.0 131.21 L486.0 132.42 L487.0 133.67 L488.0 134.96 L489.0 136.26 L490.0 137.57 L491.0 138.87 L492.0 140.18 L493.0 141.48 L494.0 142.76 L495.0 143.97 L496.0 145.11 L497.0 146.19 L498.0 147.28 L499.0 148.36 L500.0 149.45 L501.0 150.53 L502.0 151.62 L503.0 152.74 L504.0 153.91 L505.0 155.11 L506.0 156.32 L507.0 157.53 L508.0 158.74 L509.0 159.94 L510.0 161.15 L511.0 162.31 L512.0 163.40 L513.0 164.42 L514.0 165.43 L515.0 166.45 L516.0 167.46 L517.0 168.47 L518.0 169.48 L519.0 170.49 L520.0 171.50 L521.0 172.50 L522.0 173.50 L523.0 174.50 L524.0 175.50 L525.0 176.50 L526.0 177.71 L527.0 179.14 L528.0 180.78 L529.0 182.42 L530.0 184.06 L531.0 185.94 L532.0 188.05 L533.0 190.39 L534.0 192.74 L535.0 195.11 L536.0 197.69 L537.0 200.48 L538.0 203.46 L539.0 206.44 L540.0 209.39 L541.0 212.01 L542.0 214.30 L543.0 216.30 L544.0 218.30 L545.0 220.30 L546.0 222.30 L547.0 224.05 L548.0 225.29 L549.0 226.02 L550.0 226.53 L551.0 227.06 L552.0 227.63 L553.0 228.19 L554.0 228.75 L555.0 229.32 L556.0 229.88 L557.0 230.44 L558.0 230.99 L559.0 231.53 L560.0 232.07 L561.0 232.62 L562.0 233.16 L563.0 233.70 L564.0 234.17 L565.0 234.54 L566.0 234.83 L567.0 235.12 L568.0 235.40 L569.0 235.68 L570.0 235.83 L571.0 235.72 L572.0 235.35 L573.0 234.85 L574.0 234.28 L575.0 233.50 L576.0 232.49 L577.0 231.32 L578.0 230.16 L579.0 229.06 L580.0 228.10 L581.0 227.29 L582.0 226.57 L583.0 225.89 L584.0 225.58 L585.0 225.64 L586.0 226.04 L587.0 226.70 L588.0 227.80 L589.0 229.34 L590.0 231.08 L591.0 233.03 L592.0 235.20 L593.0 237.56 L594.0 239.96 L595.0 242.44 L596.0 245.00 L597.0 247.60 L598.0 249.94 L599.0 252.03 L600.0 253.86 L601.0 255.49 L602.0 256.73 L603.0 257.59 L604.0 258.24 L605.0 258.53 L606.0 258.44 L607.0 257.98 L608.0 257.52 L609.0 257.06 L610.0 256.46 L611.0 255.72 L612.0 254.84 L613.0 253.97 L614.0 253.10 L615.0 252.37 L616.0 251.76 L617.0 251.27 L618.0 250.78 L619.0 250.29 L620.0 249.85 L621.0 249.45 L622.0 249.11 L623.0 248.76 L624.0 248.41 L625.0 248.06 L626.0 247.72 L627.0 247.43 L628.0 247.22 L629.0 247.08 L630.0 246.96 L631.0 246.83 L632.0 246.71 L633.0 246.59 L634.0 246.47 L635.0 246.34 L636.0 246.22 L637.0 246.25 L638.0 246.42 L639.0 246.74 L640.0 247.06 L641.0 247.38 L642.0 247.70 L643.0 248.02 L644.0 248.40 L645.0 248.90 L646.0 249.51 L647.0 250.19 L648.0 250.86 L649.0 251.54 L650.0 252.22 L651.0 252.89 L652.0 253.50 L653.0 254.06 L654.0 254.57 L655.0 255.08 L656.0 255.58 L657.0 256.09 L658.0 256.53 L659.0 256.90 L660.0 257.10" stroke="#22ee22" stroke-width="2.8"/>
</g>
<rect x="248.1" y="14.5" width="411.8" height="335.1" fill="none" stroke="#000" stroke-width="2.2"/>
<path d="M248.1 349.6 V342.6 M293.9 349.6 V344.6 M339.6 349.6 V342.6 M385.4 349.6 V344.6 M431.1 349.6 V342.6 M476.9 349.6 V344.6 M522.6 349.6 V342.6 M568.4 349.6 V344.6 M614.1 349.6 V342.6 M659.9 349.6 V344.6 M248.1 332.0 H252.8 M248.1 314.3 H252.8 M248.1 296.7 H254.6 M248.1 279.1 H252.8 M248.1 261.4 H252.8 M248.1 243.8 H252.8 M248.1 226.1 H254.6 M248.1 208.5 H252.8 M248.1 190.9 H252.8 M248.1 173.2 H252.8 M248.1 155.6 H254.6 M248.1 138.0 H252.8 M248.1 120.3 H252.8 M248.1 102.7 H252.8 M248.1 85.0 H254.6 M248.1 67.4 H252.8 M248.1 49.8 H252.8 M248.1 32.1 H252.8" stroke="#000" stroke-width="2" fill="none"/>
<text x="199.11" y="21.49" font-size="21.34" font-weight="normal" font-style="normal" fill="#000" stroke="#000" stroke-width="0.55" textLength="40.98" lengthAdjust="spacingAndGlyphs">0.10</text>
<text x="199.11" y="92.04" font-size="21.34" font-weight="normal" font-style="normal" fill="#000" stroke="#000" stroke-width="0.55" textLength="40.98" lengthAdjust="spacingAndGlyphs">0.08</text>
<text x="199.11" y="162.59" font-size="21.34" font-weight="normal" font-style="normal" fill="#000" stroke="#000" stroke-width="0.55" textLength="40.78" lengthAdjust="spacingAndGlyphs">0.06</text>
<text x="199.12" y="233.13" font-size="21.34" font-weight="normal" font-style="normal" fill="#000" stroke="#000" stroke-width="0.55" textLength="40.44" lengthAdjust="spacingAndGlyphs">0.04</text>
<text x="199.10" y="303.68" font-size="21.34" font-weight="normal" font-style="normal" fill="#000" stroke="#000" stroke-width="0.55" textLength="41.41" lengthAdjust="spacingAndGlyphs">0.02</text>
<text x="226.05" y="371.40" font-size="20.30" font-weight="normal" font-style="normal" fill="#000" stroke="#000" stroke-width="0.55" textLength="43.89" lengthAdjust="spacingAndGlyphs">3000</text>
<text x="317.56" y="371.40" font-size="20.30" font-weight="normal" font-style="normal" fill="#000" stroke="#000" stroke-width="0.55" textLength="43.89" lengthAdjust="spacingAndGlyphs">3200</text>
<text x="409.07" y="371.40" font-size="20.30" font-weight="normal" font-style="normal" fill="#000" stroke="#000" stroke-width="0.55" textLength="43.89" lengthAdjust="spacingAndGlyphs">3400</text>
<text x="500.58" y="371.40" font-size="20.30" font-weight="normal" font-style="normal" fill="#000" stroke="#000" stroke-width="0.55" textLength="43.89" lengthAdjust="spacingAndGlyphs">3600</text>
<text x="592.09" y="371.40" font-size="20.30" font-weight="normal" font-style="normal" fill="#000" stroke="#000" stroke-width="0.55" textLength="43.89" lengthAdjust="spacingAndGlyphs">3800</text>
<text x="360.18" y="403.20" font-size="21.30" font-weight="normal" font-style="normal" fill="#000" stroke="#000" stroke-width="0.55" textLength="166.60" lengthAdjust="spacingAndGlyphs">Wavenumber/cm</text>
<text x="527.86" y="396.50" font-size="14.50" font-weight="normal" font-style="normal" fill="#000" stroke="#000" stroke-width="0.55" textLength="20.07" lengthAdjust="spacingAndGlyphs">−1</text>
<text x="179.70" y="223.60" font-size="21.53" font-weight="normal" font-style="normal" fill="#000" stroke="#000" stroke-width="0.55" textLength="87.00" lengthAdjust="spacingAndGlyphs" transform="rotate(-90 180.60 223.60)">Intensity</text>
<text x="263.50" y="45.30" font-size="20.00" font-weight="normal" font-style="normal" fill="#000" stroke="#000" stroke-width="0.55" textLength="27.80" lengthAdjust="spacingAndGlyphs">(a)</text>
<text x="335.91" y="34.70" font-size="18.50" font-weight="normal" font-style="normal" fill="#000" stroke="#000" stroke-width="0.55" textLength="63.52" lengthAdjust="spacingAndGlyphs">peak 2</text>
<text x="403.12" y="245.40" font-size="18.50" font-weight="normal" font-style="normal" fill="#000" stroke="#000" stroke-width="0.55" textLength="61.99" lengthAdjust="spacingAndGlyphs">peak 1</text>
<path d="M369.1 44.3 V65.2 M434.9 192.2 V219.5" stroke="#000" stroke-width="1.6"/>
<path d="M502 42.9 H533" stroke="#000000" stroke-width="2.2"/>
<text x="542.44" y="48.16" font-size="14.82" font-weight="normal" font-style="normal" fill="#000" stroke="#000" stroke-width="0.55" textLength="31.06" lengthAdjust="spacingAndGlyphs">1700</text>
<path d="M582 42.9 H612" stroke="#8a8a8a" stroke-width="2.2"/>
<text x="621.34" y="48.16" font-size="14.82" font-weight="normal" font-style="normal" fill="#000" stroke="#000" stroke-width="0.55" textLength="31.06" lengthAdjust="spacingAndGlyphs">1500</text>
<path d="M502 58.4 H533" stroke="#00007a" stroke-width="2.2"/>
<text x="542.44" y="63.66" font-size="14.82" font-weight="normal" font-style="normal" fill="#000" stroke="#000" stroke-width="0.55" textLength="31.06" lengthAdjust="spacingAndGlyphs">1300</text>
<path d="M582 58.4 H612" stroke="#464646" stroke-width="2.2"/>
<text x="621.34" y="63.66" font-size="14.82" font-weight="normal" font-style="normal" fill="#000" stroke="#000" stroke-width="0.55" textLength="31.06" lengthAdjust="spacingAndGlyphs">1200</text>
<path d="M502 73.6 H533" stroke="#108080" stroke-width="2.2"/>
<text x="542.44" y="78.86" font-size="14.82" font-weight="normal" font-style="normal" fill="#000" stroke="#000" stroke-width="0.55" textLength="31.06" lengthAdjust="spacingAndGlyphs">1100</text>
<path d="M582 73.6 H612" stroke="#000080" stroke-width="2.2"/>
<text x="621.34" y="78.86" font-size="14.82" font-weight="normal" font-style="normal" fill="#000" stroke="#000" stroke-width="0.55" textLength="31.06" lengthAdjust="spacingAndGlyphs">1000</text>
<path d="M502 89.0 H533" stroke="#7000e8" stroke-width="2.2"/>
<text x="543.32" y="94.26" font-size="14.82" font-weight="normal" font-style="normal" fill="#000" stroke="#000" stroke-width="0.55" textLength="22.21" lengthAdjust="spacingAndGlyphs">900</text>
<path d="M582 89.0 H612" stroke="#800080" stroke-width="2.2"/>
<text x="622.13" y="94.26" font-size="14.82" font-weight="normal" font-style="normal" fill="#000" stroke="#000" stroke-width="0.55" textLength="22.30" lengthAdjust="spacingAndGlyphs">800</text>
<path d="M502 104.5 H533" stroke="#780000" stroke-width="2.2"/>
<text x="542.80" y="109.76" font-size="14.82" font-weight="normal" font-style="normal" fill="#000" stroke="#000" stroke-width="0.55" textLength="22.75" lengthAdjust="spacingAndGlyphs">700</text>
<path d="M582 104.5 H612" stroke="#848410" stroke-width="2.2"/>
<text x="622.06" y="109.76" font-size="14.82" font-weight="normal" font-style="normal" fill="#000" stroke="#000" stroke-width="0.55" textLength="22.38" lengthAdjust="spacingAndGlyphs">600</text>
<path d="M502 120.0 H533" stroke="#3a5f8e" stroke-width="2.2"/>
<text x="542.92" y="125.26" font-size="14.82" font-weight="normal" font-style="normal" fill="#000" stroke="#000" stroke-width="0.55" textLength="22.62" lengthAdjust="spacingAndGlyphs">500</text>
<path d="M582 120.0 H612" stroke="#3a8c98" stroke-width="2.2"/>
<text x="622.41" y="125.26" font-size="14.82" font-weight="normal" font-style="normal" fill="#000" stroke="#000" stroke-width="0.55" textLength="22.02" lengthAdjust="spacingAndGlyphs">400</text>
<path d="M502 135.5 H533" stroke="#9c6428" stroke-width="2.2"/>
<text x="543.08" y="140.76" font-size="14.82" font-weight="normal" font-style="normal" fill="#000" stroke="#000" stroke-width="0.55" textLength="22.46" lengthAdjust="spacingAndGlyphs">300</text>
<path d="M582 135.5 H612" stroke="#006800" stroke-width="2.2"/>
<text x="622.04" y="140.76" font-size="14.82" font-weight="normal" font-style="normal" fill="#000" stroke="#000" stroke-width="0.55" textLength="22.39" lengthAdjust="spacingAndGlyphs">200</text>
<path d="M502 150.8 H533" stroke="#22e8f0" stroke-width="2.2"/>
<text x="542.45" y="156.06" font-size="14.82" font-weight="normal" font-style="normal" fill="#000" stroke="#000" stroke-width="0.55" textLength="23.11" lengthAdjust="spacingAndGlyphs">100</text>
<path d="M582 150.8 H612" stroke="#22ee22" stroke-width="2.2"/>
<text x="622.07" y="156.06" font-size="14.82" font-weight="normal" font-style="normal" fill="#000" stroke="#000" stroke-width="0.55" textLength="8.33" lengthAdjust="spacingAndGlyphs">0</text>
<text x="567.03" y="28.90" font-size="14.50" font-weight="normal" font-style="italic" fill="#000" stroke="#000" stroke-width="0.55" textLength="9.42" lengthAdjust="spacingAndGlyphs">d</text>
<text x="577.50" y="28.90" font-size="14.50" font-weight="normal" font-style="normal" fill="#000" stroke="#000" stroke-width="0.55" textLength="26.66" lengthAdjust="spacingAndGlyphs">/μm</text>
<path d="M808.6 190.5 V14.6 H1161.4 V190.0 M808.6 198.5 V348.7 H1161.4 V198.0" stroke="#000" stroke-width="2.4" fill="none"/>
<path d="M795.1 195.8 L821.9 187.8 M795.1 201.4 L821.9 194.8 M1148.5 195.2 L1174.9 188.6 M1148.5 200.8 L1174.9 195" stroke="#000" stroke-width="2.4" fill="none"/>
<path d="M1122.2 348.7 V344.7 M1083.0 348.7 V342.7 M1043.8 348.7 V344.7 M1004.6 348.7 V342.7 M965.4 348.7 V344.7 M926.2 348.7 V342.7 M887.0 348.7 V344.7 M847.8 348.7 V342.7 M808.6 46.0 H813.6 M808.6 87.8 H813.6 M808.6 129.5 H813.6 M808.6 171.3 H813.6 M808.6 246.9 H813.6 M808.6 297.8 H813.6" stroke="#000" stroke-width="2" fill="none"/>
<text x="756.26" y="52.60" font-size="20.15" font-weight="normal" font-style="normal" fill="#000" stroke="#000" stroke-width="0.55" textLength="43.27" lengthAdjust="spacingAndGlyphs">3404</text>
<text x="756.25" y="94.36" font-size="20.15" font-weight="normal" font-style="normal" fill="#000" stroke="#000" stroke-width="0.55" textLength="43.78" lengthAdjust="spacingAndGlyphs">3400</text>
<text x="756.26" y="136.12" font-size="20.15" font-weight="normal" font-style="normal" fill="#000" stroke="#000" stroke-width="0.55" textLength="43.59" lengthAdjust="spacingAndGlyphs">3396</text>
<text x="756.24" y="177.88" font-size="20.15" font-weight="normal" font-style="normal" fill="#000" stroke="#000" stroke-width="0.55" textLength="44.18" lengthAdjust="spacingAndGlyphs">3392</text>
<text x="756.25" y="253.54" font-size="20.15" font-weight="normal" font-style="normal" fill="#000" stroke="#000" stroke-width="0.55" textLength="43.78" lengthAdjust="spacingAndGlyphs">3268</text>
<text x="756.26" y="304.42" font-size="20.15" font-weight="normal" font-style="normal" fill="#000" stroke="#000" stroke-width="0.55" textLength="43.27" lengthAdjust="spacingAndGlyphs">3264</text>
<text x="756.25" y="355.30" font-size="20.15" font-weight="normal" font-style="normal" fill="#000" stroke="#000" stroke-width="0.55" textLength="43.78" lengthAdjust="spacingAndGlyphs">3260</text>
<text x="825.38" y="371.61" font-size="19.71" font-weight="normal" font-style="normal" fill="#000" stroke="#000" stroke-width="0.55" textLength="43.76" lengthAdjust="spacingAndGlyphs">1600</text>
<text x="903.78" y="371.61" font-size="19.71" font-weight="normal" font-style="normal" fill="#000" stroke="#000" stroke-width="0.55" textLength="43.76" lengthAdjust="spacingAndGlyphs">1200</text>
<text x="987.95" y="371.61" font-size="19.71" font-weight="normal" font-style="normal" fill="#000" stroke="#000" stroke-width="0.55" textLength="33.29" lengthAdjust="spacingAndGlyphs">800</text>
<text x="1066.77" y="371.61" font-size="19.71" font-weight="normal" font-style="normal" fill="#000" stroke="#000" stroke-width="0.55" textLength="32.86" lengthAdjust="spacingAndGlyphs">400</text>
<text x="1155.50" y="371.61" font-size="19.71" font-weight="normal" font-style="normal" fill="#000" stroke="#000" stroke-width="0.55" textLength="11.80" lengthAdjust="spacingAndGlyphs">0</text>
<text x="933.23" y="402.80" font-size="20.00" font-weight="normal" font-style="italic" fill="#000" stroke="#000" stroke-width="0.55" textLength="12.71" lengthAdjust="spacingAndGlyphs">d</text>
<text x="947.50" y="402.80" font-size="20.00" font-weight="normal" font-style="normal" fill="#000" stroke="#000" stroke-width="0.55" textLength="37.67" lengthAdjust="spacingAndGlyphs">/μm</text>
<text x="734.98" y="273.50" font-size="21.69" font-weight="normal" font-style="normal" fill="#000" stroke="#000" stroke-width="0.55" textLength="165.90" lengthAdjust="spacingAndGlyphs" transform="rotate(-90 735.00 273.50)">Wavenumber/cm</text>
<g transform="translate(729.1 105.7) rotate(-90)"><text x="-0.99" y="0.00" font-size="14.00" font-weight="normal" font-style="normal" fill="#000" stroke="#000" stroke-width="0.55" textLength="21.08" lengthAdjust="spacingAndGlyphs">−1</text></g>
<polyline points="828.2,42.9 867.4,62.7 906.6,62.7 926.2,83.6 945.8,103.4 965.4,83.6 985.0,103.4 1004.6,123.3 1024.2,103.4 1043.8,83.6 1063.4,123.3 1083.0,123.3 1102.6,123.3 1122.2,144.1 1141.8,183.8 1161.4,183.8" fill="none" stroke="#000" stroke-width="2.3"/>
<rect x="820.7" y="35.4" width="15" height="15" fill="#000"/>
<rect x="859.9" y="55.2" width="15" height="15" fill="#000"/>
<rect x="899.1" y="55.2" width="15" height="15" fill="#000"/>
<rect x="918.7" y="76.1" width="15" height="15" fill="#000"/>
<rect x="938.3" y="95.9" width="15" height="15" fill="#000"/>
<rect x="957.9" y="76.1" width="15" height="15" fill="#000"/>
<rect x="977.5" y="95.9" width="15" height="15" fill="#000"/>
<rect x="997.1" y="115.8" width="15" height="15" fill="#000"/>
<rect x="1016.7" y="95.9" width="15" height="15" fill="#000"/>
<rect x="1036.3" y="76.1" width="15" height="15" fill="#000"/>
<rect x="1055.9" y="115.8" width="15" height="15" fill="#000"/>
<rect x="1075.5" y="115.8" width="15" height="15" fill="#000"/>
<rect x="1095.1" y="115.8" width="15" height="15" fill="#000"/>
<rect x="1114.7" y="136.6" width="15" height="15" fill="#000"/>
<rect x="1134.3" y="176.3" width="15" height="15" fill="#000"/>
<rect x="1153.9" y="176.3" width="15" height="15" fill="#000"/>
<polyline points="828.2,231.7 867.4,255.8 906.6,231.7 926.2,305.5 945.8,280.0 965.4,255.8 985.0,280.0 1004.6,280.0 1024.2,280.0 1043.8,305.5 1063.4,305.5 1083.0,305.5 1102.6,280.0 1122.2,305.5 1141.8,305.5 1161.4,305.5" fill="none" stroke="#e01010" stroke-width="2.2"/>
<circle cx="828.2" cy="231.7" r="8.3" fill="#5a5af0"/>
<circle cx="867.4" cy="255.8" r="8.3" fill="#5a5af0"/>
<circle cx="906.6" cy="231.7" r="8.3" fill="#5a5af0"/>
<circle cx="926.2" cy="305.5" r="8.3" fill="#5a5af0"/>
<circle cx="945.8" cy="280.0" r="8.3" fill="#5a5af0"/>
<circle cx="965.4" cy="255.8" r="8.3" fill="#5a5af0"/>
<circle cx="985.0" cy="280.0" r="8.3" fill="#5a5af0"/>
<circle cx="1004.6" cy="280.0" r="8.3" fill="#5a5af0"/>
<circle cx="1024.2" cy="280.0" r="8.3" fill="#5a5af0"/>
<circle cx="1043.8" cy="305.5" r="8.3" fill="#5a5af0"/>
<circle cx="1063.4" cy="305.5" r="8.3" fill="#5a5af0"/>
<circle cx="1083.0" cy="305.5" r="8.3" fill="#5a5af0"/>
<circle cx="1102.6" cy="280.0" r="8.3" fill="#5a5af0"/>
<circle cx="1122.2" cy="305.5" r="8.3" fill="#5a5af0"/>
<circle cx="1141.8" cy="305.5" r="8.3" fill="#5a5af0"/>
<circle cx="1161.4" cy="305.5" r="8.3" fill="#5a5af0"/>
<text x="837.85" y="38.80" font-size="20.00" font-weight="normal" font-style="normal" fill="#000" stroke="#000" stroke-width="0.55" textLength="27.90" lengthAdjust="spacingAndGlyphs">(b)</text>
<path d="M1024.1 35.2 H1064.9" stroke="#000" stroke-width="2"/>
<rect x="1038.2" y="28.6" width="13.6" height="13.2" fill="#000"/>
<path d="M1024.1 59.4 H1064.9" stroke="#e01010" stroke-width="2.4"/>
<circle cx="1045" cy="59.4" r="7" fill="#5a5af0"/>
<text x="1077.42" y="41.10" font-size="18.50" font-weight="normal" font-style="normal" fill="#000" stroke="#000" stroke-width="0.55" textLength="62.09" lengthAdjust="spacingAndGlyphs">peak 1</text>
<text x="1077.42" y="65.60" font-size="18.50" font-weight="normal" font-style="normal" fill="#000" stroke="#000" stroke-width="0.55" textLength="63.00" lengthAdjust="spacingAndGlyphs">peak 2</text>
<path d="M458.2 452.1 H869.9 M458.2 451.2 V786.6 H869.9" stroke="#000" stroke-width="2" fill="none"/>
<path d="M458.2 758.73 H462.2 M458.2 730.85 H462.2 M458.2 702.98 H462.2 M458.2 675.10 H464.2 M458.2 647.23 H462.2 M458.2 619.35 H462.2 M458.2 591.48 H462.2 M458.2 563.60 H464.2 M458.2 535.73 H462.2 M458.2 507.85 H462.2 M458.2 479.98 H462.2 M823.9 786.6 V782.6 M778.1 786.6 V780.6 M732.4 786.6 V782.6 M686.6 786.6 V780.6 M640.9 786.6 V782.6 M595.2 786.6 V780.6 M549.4 786.6 V782.6 M503.7 786.6 V780.6" stroke="#000" stroke-width="2" fill="none"/>
<path d="M869.9 451.1 V787.6 M869.9 762.71 H865.9 M869.9 738.81 H865.9 M869.9 714.92 H865.9 M869.9 691.03 H863.9 M869.9 667.14 H865.9 M869.9 643.24 H865.9 M869.9 619.35 H865.9 M869.9 595.46 H863.9 M869.9 571.56 H865.9 M869.9 547.67 H865.9 M869.9 523.78 H865.9 M869.9 499.89 H863.9 M869.9 475.99 H865.9 M862.9 452.1 H869.9 M865.9 786.6 H869.9" stroke="#0c0cb0" stroke-width="2.1" fill="none"/>
<text x="409.53" y="458.90" font-size="20.75" font-weight="normal" font-style="normal" fill="#000" stroke="#000" stroke-width="0.55" textLength="39.94" lengthAdjust="spacingAndGlyphs">0.10</text>
<text x="409.53" y="570.40" font-size="20.75" font-weight="normal" font-style="normal" fill="#000" stroke="#000" stroke-width="0.55" textLength="39.94" lengthAdjust="spacingAndGlyphs">0.08</text>
<text x="409.54" y="681.90" font-size="20.75" font-weight="normal" font-style="normal" fill="#000" stroke="#000" stroke-width="0.55" textLength="39.74" lengthAdjust="spacingAndGlyphs">0.06</text>
<text x="409.54" y="793.40" font-size="20.75" font-weight="normal" font-style="normal" fill="#000" stroke="#000" stroke-width="0.55" textLength="39.41" lengthAdjust="spacingAndGlyphs">0.04</text>
<text x="876.45" y="506.68" font-size="20.75" font-weight="normal" font-style="normal" fill="#0c0cb0" stroke="#0c0cb0" stroke-width="0.55" textLength="40.85" lengthAdjust="spacingAndGlyphs">1.06</text>
<text x="876.42" y="602.25" font-size="20.75" font-weight="normal" font-style="normal" fill="#0c0cb0" stroke="#0c0cb0" stroke-width="0.55" textLength="41.49" lengthAdjust="spacingAndGlyphs">1.02</text>
<text x="877.63" y="697.83" font-size="20.75" font-weight="normal" font-style="normal" fill="#0c0cb0" stroke="#0c0cb0" stroke-width="0.55" textLength="39.83" lengthAdjust="spacingAndGlyphs">0.98</text>
<text x="877.64" y="793.40" font-size="20.75" font-weight="normal" font-style="normal" fill="#0c0cb0" stroke="#0c0cb0" stroke-width="0.55" textLength="39.31" lengthAdjust="spacingAndGlyphs">0.94</text>
<text x="481.37" y="810.10" font-size="20.15" font-weight="normal" font-style="normal" fill="#000" stroke="#000" stroke-width="0.55" textLength="43.54" lengthAdjust="spacingAndGlyphs">1600</text>
<text x="572.85" y="810.10" font-size="20.15" font-weight="normal" font-style="normal" fill="#000" stroke="#000" stroke-width="0.55" textLength="43.54" lengthAdjust="spacingAndGlyphs">1200</text>
<text x="669.78" y="810.10" font-size="20.15" font-weight="normal" font-style="normal" fill="#000" stroke="#000" stroke-width="0.55" textLength="33.71" lengthAdjust="spacingAndGlyphs">800</text>
<text x="761.69" y="810.10" font-size="20.15" font-weight="normal" font-style="normal" fill="#000" stroke="#000" stroke-width="0.55" textLength="33.28" lengthAdjust="spacingAndGlyphs">400</text>
<text x="863.82" y="810.10" font-size="20.15" font-weight="normal" font-style="normal" fill="#000" stroke="#000" stroke-width="0.55" textLength="11.56" lengthAdjust="spacingAndGlyphs">0</text>
<text x="637.23" y="842.00" font-size="20.00" font-weight="normal" font-style="italic" fill="#000" stroke="#000" stroke-width="0.55" textLength="12.71" lengthAdjust="spacingAndGlyphs">d</text>
<text x="651.50" y="842.00" font-size="20.00" font-weight="normal" font-style="normal" fill="#000" stroke="#000" stroke-width="0.55" textLength="37.67" lengthAdjust="spacingAndGlyphs">/μm</text>
<text x="388.29" y="670.30" font-size="20.46" font-weight="normal" font-style="normal" fill="#000" stroke="#000" stroke-width="0.55" textLength="105.46" lengthAdjust="spacingAndGlyphs" transform="rotate(-90 389.00 670.30)">Peak hight</text>
<text x="958.30" y="643.60" font-size="21.38" font-weight="normal" font-style="normal" fill="#1414d0" stroke="#1414d0" stroke-width="0.55" textLength="52.93" lengthAdjust="spacingAndGlyphs" transform="rotate(-90 959.00 643.60)">Ratio</text>
<text x="487.81" y="478.40" font-size="20.00" font-weight="normal" font-style="normal" fill="#000" stroke="#000" stroke-width="0.55" textLength="25.09" lengthAdjust="spacingAndGlyphs">(c)</text>
<path d="M733 557.4 V786" stroke="#000" stroke-width="2.4" stroke-dasharray="5.2 2.6"/>
<path d="M480.8 480.8 L518.2 509.6 M526.6 516.0 L562.5 529.4 M572.3 533.1 L588.2 551.2 M595.2 559.1 L607.8 562.1 M618.0 564.5 L635.1 590.4 M640.9 599.2 L653.5 601.7 M663.8 603.8 L678.2 614.7 M686.6 621.0 L699.3 624.0 M709.5 626.4 L724.4 639.1 M732.4 645.9 L746.1 653.6 M755.2 658.7 L768.0 662.1 M778.1 664.8 L792.3 674.6 M801.0 680.5 L816.6 696.9 M823.9 704.5 L837.6 712.4 M846.7 717.6 L862.6 735.4" stroke="#0a0ae6" stroke-width="2.6" fill="none"/>
<polyline points="480.8,745.4 526.6,706.1 572.3,686.7 595.2,671.0 618.0,654.7 640.9,639.0 663.8,627.7 686.6,613.8 709.5,601.6 732.4,588.0 755.2,576.2 778.1,561.2 801.0,549.9 823.9,541.8 846.7,538.6 869.6,537.6" fill="none" stroke="#000" stroke-width="2.7" stroke-linejoin="round"/>
<rect x="475.6" y="740.1" width="10.5" height="10.5" fill="#000"/>
<rect x="521.3" y="700.9" width="10.5" height="10.5" fill="#000"/>
<rect x="567.0" y="681.5" width="10.5" height="10.5" fill="#000"/>
<rect x="589.9" y="665.8" width="10.5" height="10.5" fill="#000"/>
<rect x="612.8" y="649.5" width="10.5" height="10.5" fill="#000"/>
<rect x="635.7" y="633.8" width="10.5" height="10.5" fill="#000"/>
<rect x="658.5" y="622.5" width="10.5" height="10.5" fill="#000"/>
<rect x="681.4" y="608.5" width="10.5" height="10.5" fill="#000"/>
<rect x="704.3" y="596.4" width="10.5" height="10.5" fill="#000"/>
<rect x="727.1" y="582.8" width="10.5" height="10.5" fill="#000"/>
<rect x="750.0" y="571.0" width="10.5" height="10.5" fill="#000"/>
<rect x="772.9" y="556.0" width="10.5" height="10.5" fill="#000"/>
<rect x="795.7" y="544.6" width="10.5" height="10.5" fill="#000"/>
<rect x="818.6" y="536.5" width="10.5" height="10.5" fill="#000"/>
<rect x="841.5" y="533.4" width="10.5" height="10.5" fill="#000"/>
<rect x="864.4" y="532.4" width="10.5" height="10.5" fill="#000"/>
<polyline points="480.8,761.6 526.6,721.6 572.3,700.7 595.2,682.6 618.0,665.5 640.9,647.1 663.8,633.6 686.6,617.6 709.5,603.1 732.4,588.4 755.2,572.1 778.1,555.5 801.0,542.3 823.9,529.2 846.7,522.6 869.6,516.6" fill="none" stroke="#f00000" stroke-width="2.3" stroke-linejoin="round"/>
<circle cx="480.8" cy="761.6" r="6.3" fill="#f80808"/>
<circle cx="526.6" cy="721.6" r="6.3" fill="#f80808"/>
<circle cx="572.3" cy="700.7" r="6.3" fill="#f80808"/>
<circle cx="595.2" cy="682.6" r="6.3" fill="#f80808"/>
<circle cx="618.0" cy="665.5" r="6.3" fill="#f80808"/>
<circle cx="640.9" cy="647.1" r="6.3" fill="#f80808"/>
<circle cx="663.8" cy="633.6" r="6.3" fill="#f80808"/>
<circle cx="686.6" cy="617.6" r="6.3" fill="#f80808"/>
<circle cx="709.5" cy="603.1" r="6.3" fill="#f80808"/>
<circle cx="732.4" cy="588.4" r="6.3" fill="#f80808"/>
<circle cx="755.2" cy="572.1" r="6.3" fill="#f80808"/>
<circle cx="778.1" cy="555.5" r="6.3" fill="#f80808"/>
<circle cx="801.0" cy="542.3" r="6.3" fill="#f80808"/>
<circle cx="823.9" cy="529.2" r="6.3" fill="#f80808"/>
<circle cx="846.7" cy="522.6" r="6.3" fill="#f80808"/>
<circle cx="869.6" cy="516.6" r="6.3" fill="#f80808"/>
<path d="M480.8 474.2 L488.4 487.2 L473.2 487.2 Z" fill="#0a0ae6"/>
<path d="M526.6 509.4 L534.2 522.4 L519.0 522.4 Z" fill="#0a0ae6"/>
<path d="M572.3 526.5 L579.9 539.5 L564.7 539.5 Z" fill="#0a0ae6"/>
<path d="M595.2 552.5 L602.8 565.5 L587.6 565.5 Z" fill="#0a0ae6"/>
<path d="M618.0 557.9 L625.6 570.9 L610.4 570.9 Z" fill="#0a0ae6"/>
<path d="M640.9 592.6 L648.5 605.6 L633.3 605.6 Z" fill="#0a0ae6"/>
<path d="M663.8 597.2 L671.4 610.2 L656.2 610.2 Z" fill="#0a0ae6"/>
<path d="M686.6 614.4 L694.2 627.4 L679.0 627.4 Z" fill="#0a0ae6"/>
<path d="M709.5 619.8 L717.1 632.8 L701.9 632.8 Z" fill="#0a0ae6"/>
<path d="M732.4 639.3 L740.0 652.3 L724.8 652.3 Z" fill="#0a0ae6"/>
<path d="M755.2 652.1 L762.9 665.1 L747.6 665.1 Z" fill="#0a0ae6"/>
<path d="M778.1 658.2 L785.7 671.2 L770.5 671.2 Z" fill="#0a0ae6"/>
<path d="M801.0 673.9 L808.6 686.9 L793.4 686.9 Z" fill="#0a0ae6"/>
<path d="M823.9 697.9 L831.5 710.9 L816.3 710.9 Z" fill="#0a0ae6"/>
<path d="M846.7 711.0 L854.3 724.0 L839.1 724.0 Z" fill="#0a0ae6"/>
<path d="M869.6 736.6 L877.2 749.6 L862.0 749.6 Z" fill="#0a0ae6"/>
<path d="M584.1 475.2 H623.6" stroke="#000" stroke-width="2"/>
<rect x="599.3" y="470.1" width="10.5" height="10.5" fill="#000"/>
<path d="M584.1 499.2 H623.6" stroke="#f00000" stroke-width="2"/>
<circle cx="604" cy="499.2" r="6.3" fill="#f80808"/>
<path d="M584.1 523.5 H596 M613 523.5 H623.6" stroke="#0a0ae6" stroke-width="2.2"/>
<path d="M604.6 517.2 L612.2 529.5 L597 529.5 Z" fill="#0a0ae6"/>
<text x="637.02" y="481.20" font-size="18.50" font-weight="normal" font-style="normal" fill="#000" stroke="#000" stroke-width="0.55" textLength="61.68" lengthAdjust="spacingAndGlyphs">peak 1</text>
<text x="637.01" y="505.20" font-size="18.50" font-weight="normal" font-style="normal" fill="#000" stroke="#000" stroke-width="0.55" textLength="63.21" lengthAdjust="spacingAndGlyphs">peak 2</text>
<text x="637.00" y="529.50" font-size="18.50" font-weight="normal" font-style="normal" fill="#000" stroke="#000" stroke-width="0.55" textLength="138.58" lengthAdjust="spacingAndGlyphs">peak 1/peak 2</text>
</svg>
</body></html>
